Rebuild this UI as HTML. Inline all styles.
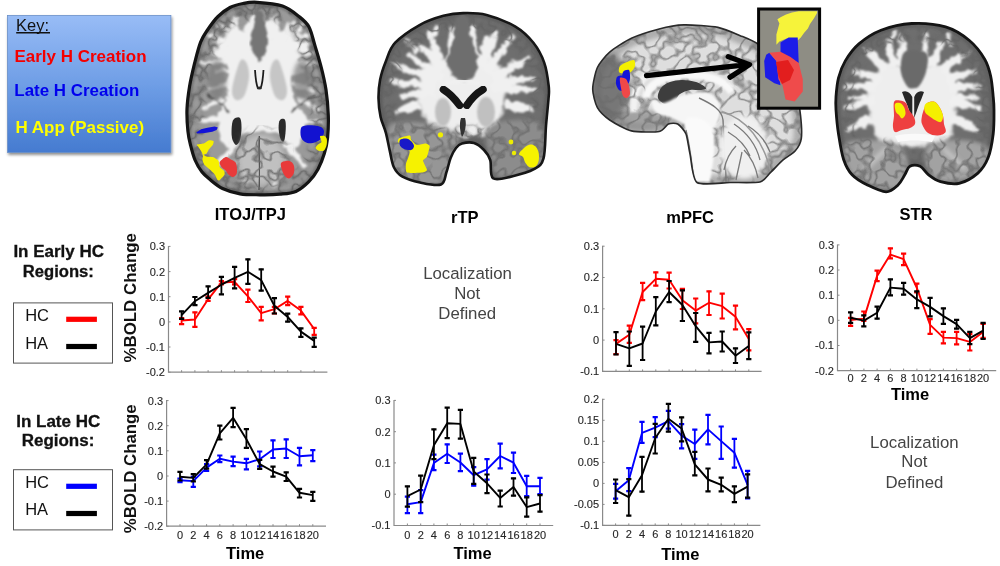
<!DOCTYPE html>
<html><head><meta charset="utf-8"><style>
html,body{margin:0;padding:0;background:#fff;}
body{width:1000px;height:566px;overflow:hidden;position:relative;font-family:"Liberation Sans", sans-serif;}
svg{position:absolute;left:0;top:0;will-change:transform;}
.tk{font-family:"Liberation Sans", sans-serif;font-size:11px;fill:#262626;stroke:#262626;stroke-width:0.12px;}
.tm{font-family:"Liberation Sans", sans-serif;font-size:16.5px;font-weight:bold;fill:#000;}
.tt{font-family:"Liberation Sans", sans-serif;font-size:16.5px;font-weight:bold;fill:#000;}
.rl{font-family:"Liberation Sans", sans-serif;font-size:16px;font-weight:bold;fill:#111;stroke:#111;stroke-width:0.3px;}
.lg{font-family:"Liberation Sans", sans-serif;font-size:16.5px;fill:#111;}
.nd{font-family:"Liberation Sans", sans-serif;font-size:16.8px;fill:#444;}
.k0{font-family:"Liberation Sans", sans-serif;font-size:16.5px;fill:#111;}
.k1{font-family:"Liberation Sans", sans-serif;font-size:16.5px;font-weight:bold;fill:#f40000;}
.k2{font-family:"Liberation Sans", sans-serif;font-size:16.5px;font-weight:bold;fill:#0000ee;}
.k3{font-family:"Liberation Sans", sans-serif;font-size:16.5px;font-weight:bold;fill:#ffff00;}
.yl{font-family:"Liberation Sans", sans-serif;font-size:17px;font-weight:bold;fill:#111;}
</style></head><body>
<svg width="1000" height="566" viewBox="0 0 1000 566">
<defs>
<linearGradient id="keyg" x1="0" y1="0" x2="0" y2="1">
<stop offset="0" stop-color="#98bcf6"/><stop offset="0.5" stop-color="#6f9ee6"/><stop offset="1" stop-color="#457bd0"/>
</linearGradient>
<filter id="sh" x="-10%" y="-10%" width="130%" height="130%"><feGaussianBlur in="SourceAlpha" stdDeviation="1.5"/><feOffset dx="1" dy="2"/><feComponentTransfer><feFuncA type="linear" slope="0.45"/></feComponentTransfer><feMerge><feMergeNode/><feMergeNode in="SourceGraphic"/></feMerge></filter>
</defs>
<!-- Key box -->
<rect x="7.5" y="15.5" width="163.4" height="137" fill="url(#keyg)" stroke="#6a8fc8" stroke-width="0.8" filter="url(#sh)"/>
<text x="16" y="30.8" class="k0" textLength="33" lengthAdjust="spacingAndGlyphs">Key:</text>
<path d="M16.2,32.7h33.8" stroke="#111" stroke-width="1.4"/>
<text x="14.5" y="61.9" class="k1" textLength="132" lengthAdjust="spacingAndGlyphs">Early H Creation</text>
<text x="14.3" y="95.8" class="k2" textLength="125" lengthAdjust="spacingAndGlyphs">Late H Creation</text>
<text x="15.5" y="132.8" class="k3" textLength="128.6" lengthAdjust="spacingAndGlyphs">H App (Passive)</text>
<defs><filter id="wob" x="-10%" y="-10%" width="120%" height="120%"><feTurbulence type="fractalNoise" baseFrequency="0.12" numOctaves="2" seed="3" result="n"/><feDisplacementMap in="SourceGraphic" in2="n" scale="7" xChannelSelector="R" yChannelSelector="G" result="d"/><feGaussianBlur in="d" stdDeviation="0.8"/></filter>
<filter id="sulc" x="0" y="0" width="100%" height="100%"><feTurbulence type="fractalNoise" baseFrequency="0.075" numOctaves="2" seed="11" result="n"/><feColorMatrix in="n" type="matrix" values="0 0 0 0 0.12  0 0 0 0 0.12  0 0 0 0 0.12  1 0 0 0 0" result="m"/><feComponentTransfer in="m"><feFuncA type="table" tableValues="0 0 0 0 0.2 1 0.2 0 0 0 0"/></feComponentTransfer><feGaussianBlur stdDeviation="0.4"/></filter>
<filter id="sulc2" x="0" y="0" width="100%" height="100%"><feTurbulence type="fractalNoise" baseFrequency="0.07" numOctaves="2" seed="5" result="n"/><feColorMatrix in="n" type="matrix" values="0 0 0 0 0.15  0 0 0 0 0.15  0 0 0 0 0.15  1 0 0 0 0" result="m"/><feComponentTransfer in="m"><feFuncA type="table" tableValues="0 0 0 0 0 1 0 0 0 0 0"/></feComponentTransfer><feGaussianBlur stdDeviation="0.35"/></filter>
<filter id="ctx" x="0" y="0" width="100%" height="100%"><feTurbulence type="fractalNoise" baseFrequency="0.11" numOctaves="2" seed="21" result="n"/><feColorMatrix in="n" type="matrix" values="2.6 0 0 0 -0.85  2.6 0 0 0 -0.85  2.6 0 0 0 -0.85  0 0 0 0 1" result="g"/><feGaussianBlur stdDeviation="0.5"/><feComposite in2="SourceGraphic" operator="in"/></filter>
<filter id="bl05" x="-20%" y="-20%" width="140%" height="140%"><feGaussianBlur stdDeviation="0.5"/></filter>
<filter id="bl1" x="-20%" y="-20%" width="140%" height="140%"><feGaussianBlur stdDeviation="1"/></filter>
<filter id="bl2" x="-20%" y="-20%" width="140%" height="140%"><feGaussianBlur stdDeviation="2"/></filter>
<filter id="bl3" x="-30%" y="-30%" width="160%" height="160%"><feGaussianBlur stdDeviation="3"/></filter></defs>
<clipPath id="cpax"><path d="M257.0,2.3C263.6,2.7 275.5,3.6 282.5,6.0C289.5,8.4 294.6,13.0 299.0,16.5C303.4,20.0 306.4,22.2 309.0,27.0C311.6,31.8 312.8,38.6 314.9,45.4C316.9,52.2 319.4,60.2 321.3,67.6C323.2,75.0 324.8,81.9 326.0,89.8C327.2,97.7 328.0,107.2 328.3,115.2C328.6,123.2 328.2,131.2 327.6,137.5C327.0,143.8 326.0,148.0 324.4,153.3C322.8,158.6 320.6,164.4 318.0,169.2C315.4,174.0 312.3,178.2 308.6,181.9C304.9,185.6 300.7,189.4 295.9,191.4C291.1,193.4 286.0,193.6 280.0,194.2C274.0,194.8 266.7,194.9 260.0,194.8C253.3,194.7 246.2,194.9 240.0,193.8C233.8,192.8 227.4,190.8 222.5,188.5C217.6,186.2 213.9,182.8 210.5,180.0C207.1,177.2 204.6,175.3 202.0,172.0C199.4,168.7 196.9,164.5 195.0,160.0C193.1,155.5 191.7,149.8 190.5,145.0C189.3,140.2 188.5,137.1 187.9,131.1C187.3,125.1 186.7,116.3 187.0,108.9C187.3,101.5 188.3,94.1 189.5,86.7C190.7,79.3 192.5,71.8 194.3,64.4C196.2,57.0 198.4,47.9 200.6,42.2C202.8,36.5 204.6,34.3 207.5,30.0C210.4,25.7 214.2,20.2 218.0,16.5C221.8,12.8 225.8,9.7 230.0,7.5C234.2,5.3 238.5,4.4 243.0,3.5C247.5,2.6 250.4,1.9 257.0,2.3Z"/></clipPath>
<path d="M257.0,2.3C263.6,2.7 275.5,3.6 282.5,6.0C289.5,8.4 294.6,13.0 299.0,16.5C303.4,20.0 306.4,22.2 309.0,27.0C311.6,31.8 312.8,38.6 314.9,45.4C316.9,52.2 319.4,60.2 321.3,67.6C323.2,75.0 324.8,81.9 326.0,89.8C327.2,97.7 328.0,107.2 328.3,115.2C328.6,123.2 328.2,131.2 327.6,137.5C327.0,143.8 326.0,148.0 324.4,153.3C322.8,158.6 320.6,164.4 318.0,169.2C315.4,174.0 312.3,178.2 308.6,181.9C304.9,185.6 300.7,189.4 295.9,191.4C291.1,193.4 286.0,193.6 280.0,194.2C274.0,194.8 266.7,194.9 260.0,194.8C253.3,194.7 246.2,194.9 240.0,193.8C233.8,192.8 227.4,190.8 222.5,188.5C217.6,186.2 213.9,182.8 210.5,180.0C207.1,177.2 204.6,175.3 202.0,172.0C199.4,168.7 196.9,164.5 195.0,160.0C193.1,155.5 191.7,149.8 190.5,145.0C189.3,140.2 188.5,137.1 187.9,131.1C187.3,125.1 186.7,116.3 187.0,108.9C187.3,101.5 188.3,94.1 189.5,86.7C190.7,79.3 192.5,71.8 194.3,64.4C196.2,57.0 198.4,47.9 200.6,42.2C202.8,36.5 204.6,34.3 207.5,30.0C210.4,25.7 214.2,20.2 218.0,16.5C221.8,12.8 225.8,9.7 230.0,7.5C234.2,5.3 238.5,4.4 243.0,3.5C247.5,2.6 250.4,1.9 257.0,2.3Z" fill="#9a9a9a"/>
<g clip-path="url(#cpax)">
<g filter="url(#wob)">
<path d="M225.6,31.8C227.1,29.1 232.6,18.5 234.5,17.7C236.4,16.9 238.8,24.1 240.0,26.0C241.2,27.9 242.2,32.3 243.3,31.8C244.4,31.3 246.8,24.1 248.0,22.0C249.2,19.9 251.0,15.9 252.1,15.9C253.2,15.9 255.1,20.1 256.0,22.0C256.9,23.9 257.9,30.0 259.2,30.0C260.5,30.0 264.1,23.6 266.0,22.0C267.9,20.4 271.7,17.2 273.3,17.7C274.9,18.2 277.1,24.1 278.0,26.0C278.9,27.9 279.3,31.8 280.4,31.8C281.5,31.8 284.6,27.2 286.0,26.0C287.4,24.8 289.9,22.7 291.0,23.0C292.1,23.3 293.1,26.8 294.0,28.0C294.9,29.2 297.0,30.2 298.1,31.8C299.2,33.4 301.1,38.1 302.0,40.0C302.9,41.9 303.7,44.4 305.1,45.9C306.5,47.4 312.1,50.0 312.2,51.2C312.3,52.4 307.9,53.8 306.0,55.0C304.1,56.2 298.9,58.6 298.1,60.1C297.3,61.6 299.1,64.5 300.0,66.0C300.9,67.5 305.5,69.9 305.0,71.0C304.5,72.1 297.9,73.1 296.0,74.0C294.1,74.9 291.2,74.5 291.0,78.0C290.8,81.5 293.3,95.7 294.5,100.0C295.7,104.3 298.5,107.6 300.0,110.0C301.5,112.4 305.3,115.3 306.0,118.0C306.7,120.7 305.8,126.8 305.0,130.0C304.2,133.2 301.7,139.3 300.0,142.0C298.3,144.7 294.0,149.5 292.0,150.0C290.0,150.5 286.3,147.9 285.0,146.0C283.7,144.1 282.9,137.9 282.0,136.0C281.1,134.1 279.6,132.4 278.0,132.0C276.4,131.6 272.5,133.1 270.0,133.0C267.5,132.9 261.9,131.0 259.0,131.0C256.1,131.0 250.5,132.3 248.0,133.0C245.5,133.7 241.5,134.3 240.0,136.0C238.5,137.7 238.3,144.1 237.0,146.0C235.7,147.9 232.0,150.5 230.0,150.0C228.0,149.5 223.5,144.9 222.0,142.0C220.5,139.1 219.4,132.0 219.0,128.0C218.6,124.0 218.1,115.7 219.0,112.0C219.9,108.3 224.5,104.3 225.6,100.0C226.7,95.7 226.8,83.7 227.5,79.6C228.2,75.5 231.2,71.3 231.0,69.0C230.8,66.7 227.1,63.4 225.7,62.0C224.3,60.6 222.0,59.2 220.3,58.3C218.6,57.4 214.2,56.2 213.0,55.0C211.8,53.8 210.8,50.6 211.5,49.5C212.2,48.4 216.8,47.5 218.0,47.0C219.2,46.5 219.6,47.1 220.3,45.9C221.0,44.7 222.3,39.9 223.0,38.0C223.7,36.1 224.1,34.5 225.6,31.8Z" fill="#f0f0f0"/>
<path d="M239.8,40.6L236.2,16.8M252.1,40.6L254.8,15.0M273.3,40.6L276.0,16.8M284.0,40.6L292.8,23.0M231.0,49.5L215.0,42.4M229.2,56.5L211.5,53.0M294.5,49.5L308.7,42.4M294.5,56.5L312.2,53.0M232.7,70.7L216.8,70.7M291.0,70.7L305.1,70.7M228.0,84.0L210.0,88.0M294.0,84.0L312.0,90.0M300.0,100.0L318.0,110.0M222.0,100.0L204.0,108.0M226.0,30.0L216.0,22.0M300.0,30.0L305.0,22.0M222.0,40.0L205.0,34.0M298.0,40.0L312.0,34.0M224.0,62.0L203.0,62.0M296.0,62.0L316.0,64.0M225.0,118.0L200.0,120.0M300.0,120.0L320.0,122.0M232.0,150.0L215.0,165.0M290.0,150.0L305.0,165.0M248.0,160.0L245.0,185.0M272.0,160.0L276.0,185.0" stroke="#f0f0f0" stroke-width="4.5" stroke-linecap="round" fill="none" filter="url(#bl05)"/>
<path d="M206,96 C214,99 222,104 230,112 M314,96 C306,99 298,104 290,112" stroke="#3a3a3a" stroke-width="1.8" fill="none" filter="url(#bl05)"/>
</g>
<mask id="mkax"><path d="M257.0,2.3C263.6,2.7 275.5,3.6 282.5,6.0C289.5,8.4 294.6,13.0 299.0,16.5C303.4,20.0 306.4,22.2 309.0,27.0C311.6,31.8 312.8,38.6 314.9,45.4C316.9,52.2 319.4,60.2 321.3,67.6C323.2,75.0 324.8,81.9 326.0,89.8C327.2,97.7 328.0,107.2 328.3,115.2C328.6,123.2 328.2,131.2 327.6,137.5C327.0,143.8 326.0,148.0 324.4,153.3C322.8,158.6 320.6,164.4 318.0,169.2C315.4,174.0 312.3,178.2 308.6,181.9C304.9,185.6 300.7,189.4 295.9,191.4C291.1,193.4 286.0,193.6 280.0,194.2C274.0,194.8 266.7,194.9 260.0,194.8C253.3,194.7 246.2,194.9 240.0,193.8C233.8,192.8 227.4,190.8 222.5,188.5C217.6,186.2 213.9,182.8 210.5,180.0C207.1,177.2 204.6,175.3 202.0,172.0C199.4,168.7 196.9,164.5 195.0,160.0C193.1,155.5 191.7,149.8 190.5,145.0C189.3,140.2 188.5,137.1 187.9,131.1C187.3,125.1 186.7,116.3 187.0,108.9C187.3,101.5 188.3,94.1 189.5,86.7C190.7,79.3 192.5,71.8 194.3,64.4C196.2,57.0 198.4,47.9 200.6,42.2C202.8,36.5 204.6,34.3 207.5,30.0C210.4,25.7 214.2,20.2 218.0,16.5C221.8,12.8 225.8,9.7 230.0,7.5C234.2,5.3 238.5,4.4 243.0,3.5C247.5,2.6 250.4,1.9 257.0,2.3Z" fill="none" stroke="#fff" stroke-width="34" filter="url(#bl2)"/></mask>
<rect x="185" y="0" width="146" height="198" fill="#000" filter="url(#sulc)" mask="url(#mkax)" opacity="0.8"/>
<path d="M257.0,2.3C263.6,2.7 275.5,3.6 282.5,6.0C289.5,8.4 294.6,13.0 299.0,16.5C303.4,20.0 306.4,22.2 309.0,27.0C311.6,31.8 312.8,38.6 314.9,45.4C316.9,52.2 319.4,60.2 321.3,67.6C323.2,75.0 324.8,81.9 326.0,89.8C327.2,97.7 328.0,107.2 328.3,115.2C328.6,123.2 328.2,131.2 327.6,137.5C327.0,143.8 326.0,148.0 324.4,153.3C322.8,158.6 320.6,164.4 318.0,169.2C315.4,174.0 312.3,178.2 308.6,181.9C304.9,185.6 300.7,189.4 295.9,191.4C291.1,193.4 286.0,193.6 280.0,194.2C274.0,194.8 266.7,194.9 260.0,194.8C253.3,194.7 246.2,194.9 240.0,193.8C233.8,192.8 227.4,190.8 222.5,188.5C217.6,186.2 213.9,182.8 210.5,180.0C207.1,177.2 204.6,175.3 202.0,172.0C199.4,168.7 196.9,164.5 195.0,160.0C193.1,155.5 191.7,149.8 190.5,145.0C189.3,140.2 188.5,137.1 187.9,131.1C187.3,125.1 186.7,116.3 187.0,108.9C187.3,101.5 188.3,94.1 189.5,86.7C190.7,79.3 192.5,71.8 194.3,64.4C196.2,57.0 198.4,47.9 200.6,42.2C202.8,36.5 204.6,34.3 207.5,30.0C210.4,25.7 214.2,20.2 218.0,16.5C221.8,12.8 225.8,9.7 230.0,7.5C234.2,5.3 238.5,4.4 243.0,3.5C247.5,2.6 250.4,1.9 257.0,2.3Z" fill="none" stroke="#5a5a5a" stroke-width="7" opacity="0.55" filter="url(#bl1)"/>
<path d="M256.5,12.0C257.6,10.7 260.2,10.3 261.5,12.0C262.8,13.7 263.1,18.7 264.0,22.0C264.9,25.3 266.3,28.7 267.0,32.0C267.7,35.3 268.2,39.0 268.0,42.0C267.8,45.0 267.0,47.0 266.0,50.0C265.0,53.0 263.1,57.8 262.0,60.0C260.9,62.2 260.3,63.3 259.5,63.0C258.7,62.7 258.1,60.2 257.0,58.0C255.9,55.8 254.0,52.7 253.0,50.0C252.0,47.3 251.0,45.3 251.0,42.0C251.0,38.7 252.3,33.7 253.0,30.0C253.7,26.3 254.4,23.0 255.0,20.0C255.6,17.0 255.4,13.3 256.5,12.0Z" fill="#747474" filter="url(#wob)"/>
<path d="M259.5,5 L259.5,60" stroke="#3a3a3a" stroke-width="1.6" filter="url(#bl05)"/>
<path d="M241.0,60.0C243.0,58.0 245.7,61.0 247.0,64.0C248.3,67.0 249.5,72.7 249.0,78.0C248.5,83.3 246.2,92.3 244.0,96.0C241.8,99.7 238.0,100.7 236.0,100.0C234.0,99.3 232.2,96.0 232.0,92.0C231.8,88.0 233.5,81.3 235.0,76.0C236.5,70.7 239.0,62.0 241.0,60.0Z" fill="#c6c6c6" filter="url(#bl1)"/>
<path d="M278.0,60.0C276.0,58.0 273.3,61.0 272.0,64.0C270.7,67.0 269.5,72.7 270.0,78.0C270.5,83.3 272.8,92.3 275.0,96.0C277.2,99.7 281.0,100.7 283.0,100.0C285.0,99.3 286.8,96.0 287.0,92.0C287.2,88.0 285.5,81.3 284.0,76.0C282.5,70.7 280.0,62.0 278.0,60.0Z" fill="#c6c6c6" filter="url(#bl1)"/>
<ellipse cx="217" cy="80" rx="9" ry="20" fill="#7a7a7a" opacity="0.7" filter="url(#bl2)"/>
<ellipse cx="302" cy="80" rx="9" ry="20" fill="#7a7a7a" opacity="0.7" filter="url(#bl2)"/>
<path d="M255,70 C255.5,78 256,84 258,88.5 M263.5,70 C263,78 262.5,84 260.5,88.5" stroke="#1e1e1e" stroke-width="1.8" fill="none" filter="url(#bl05)"/>
<ellipse cx="259.3" cy="88" rx="2.5" ry="1.6" fill="#2a2a2a"/>
<path d="M234.0,119.0C235.4,117.7 238.8,116.5 240.0,118.0C241.2,119.5 241.5,124.3 241.5,128.0C241.5,131.7 240.9,137.2 240.0,140.0C239.1,142.8 237.3,145.3 236.0,145.0C234.7,144.7 232.7,141.2 232.0,138.0C231.3,134.8 231.5,129.2 231.8,126.0C232.1,122.8 232.6,120.3 234.0,119.0Z" fill="#2a2a2a" filter="url(#bl05)"/>
<path d="M280.0,120.0C281.1,118.7 284.1,118.3 285.0,120.0C285.9,121.7 285.9,126.5 285.7,130.0C285.5,133.5 284.9,139.5 284.0,141.0C283.1,142.5 281.4,141.2 280.5,139.0C279.6,136.8 278.7,131.2 278.6,128.0C278.5,124.8 278.9,121.3 280.0,120.0Z" fill="#2a2a2a" filter="url(#bl05)"/>
<ellipse cx="261" cy="160" rx="24" ry="26" fill="#c0c0c0" filter="url(#bl3)"/>
<path d="M259.5,136 C258,150 261,165 259,190" stroke="#555" stroke-width="1.6" fill="none" filter="url(#bl05)"/>
<mask id="mkoc"><ellipse cx="261" cy="160" rx="30" ry="32" fill="#fff" filter="url(#bl3)"/></mask>
<rect x="228" y="125" width="66" height="70" fill="#000" filter="url(#sulc2)" mask="url(#mkoc)" opacity="0.85"/>
</g>
<path d="M257.0,2.3C263.6,2.7 275.5,3.6 282.5,6.0C289.5,8.4 294.6,13.0 299.0,16.5C303.4,20.0 306.4,22.2 309.0,27.0C311.6,31.8 312.8,38.6 314.9,45.4C316.9,52.2 319.4,60.2 321.3,67.6C323.2,75.0 324.8,81.9 326.0,89.8C327.2,97.7 328.0,107.2 328.3,115.2C328.6,123.2 328.2,131.2 327.6,137.5C327.0,143.8 326.0,148.0 324.4,153.3C322.8,158.6 320.6,164.4 318.0,169.2C315.4,174.0 312.3,178.2 308.6,181.9C304.9,185.6 300.7,189.4 295.9,191.4C291.1,193.4 286.0,193.6 280.0,194.2C274.0,194.8 266.7,194.9 260.0,194.8C253.3,194.7 246.2,194.9 240.0,193.8C233.8,192.8 227.4,190.8 222.5,188.5C217.6,186.2 213.9,182.8 210.5,180.0C207.1,177.2 204.6,175.3 202.0,172.0C199.4,168.7 196.9,164.5 195.0,160.0C193.1,155.5 191.7,149.8 190.5,145.0C189.3,140.2 188.5,137.1 187.9,131.1C187.3,125.1 186.7,116.3 187.0,108.9C187.3,101.5 188.3,94.1 189.5,86.7C190.7,79.3 192.5,71.8 194.3,64.4C196.2,57.0 198.4,47.9 200.6,42.2C202.8,36.5 204.6,34.3 207.5,30.0C210.4,25.7 214.2,20.2 218.0,16.5C221.8,12.8 225.8,9.7 230.0,7.5C234.2,5.3 238.5,4.4 243.0,3.5C247.5,2.6 250.4,1.9 257.0,2.3Z" fill="none" stroke="#141414" stroke-width="3.2"/>
<path d="M196.2,132.4 L201.1,129.3 L207.3,127.7 L214.7,126.4 L217.8,127.4 L216.6,129.9 L212.3,131.8 L204.8,133 L197.4,133.4Z" fill="#1212d8"/>
<path d="M196.8,144.7C197.3,144.3 202.4,143.9 203.6,143.5C204.8,143.1 207.6,140.7 208.6,140.4C209.6,140.2 213.1,140.6 213.5,141.0C213.9,141.4 213.4,143.8 212.9,144.7C212.4,145.6 209.2,148.8 208.6,149.7C208.0,150.6 207.2,152.9 206.7,153.4C206.2,153.9 203.7,154.3 203.6,154.6C203.5,154.9 205.2,156.2 206.1,156.5C207.0,156.8 211.7,156.7 212.9,157.1C214.1,157.5 217.8,159.8 218.5,160.8C219.2,161.8 219.1,166.0 219.7,167.0C220.2,168.0 223.5,170.0 224.0,170.7C224.5,171.4 224.8,173.7 224.6,174.4C224.3,175.1 222.1,177.5 221.5,178.1C220.9,178.7 219.5,180.5 219.1,180.6C218.7,180.7 217.6,180.0 217.2,179.4C216.8,178.8 215.4,175.4 214.7,174.4C214.0,173.4 210.9,170.5 209.8,169.5C208.8,168.5 204.9,165.5 204.2,164.5C203.5,163.5 202.5,160.5 202.4,159.6C202.3,158.7 203.1,156.6 203.0,155.9C202.9,155.2 202.2,153.1 201.8,152.2C201.4,151.3 199.2,147.9 198.7,147.2C198.2,146.4 196.3,145.1 196.8,144.7Z" fill="#f6f000"/>
<path d="M219.7,162.1C220.3,160.8 224.4,157.4 225.9,157.1C227.4,156.8 229.5,158.9 230.8,159.6C232.1,160.3 235.0,161.4 235.8,162.7C236.6,164.0 236.9,167.9 237.0,169.5C237.1,171.1 237.0,173.4 236.4,174.4C235.8,175.4 233.8,176.9 232.7,176.9C231.6,176.9 229.3,175.2 228.4,174.4C227.5,173.6 226.8,171.7 225.9,170.7C225.0,169.7 222.3,168.1 221.5,167.0C220.7,165.9 219.1,163.4 219.7,162.1Z" fill="#e83a3a"/>
<path d="M301.0,128.0C301.8,126.1 303.8,126.0 306.0,125.6C308.2,125.2 311.5,125.3 314.0,125.5C316.5,125.7 319.3,126.1 321.0,127.0C322.7,127.9 323.8,129.3 324.0,131.0C324.2,132.7 323.5,135.3 322.5,137.0C321.5,138.7 319.9,139.9 318.0,141.0C316.1,142.1 313.2,143.1 311.0,143.3C308.8,143.5 306.7,143.1 305.0,142.0C303.3,140.9 301.7,139.3 301.0,137.0C300.3,134.7 300.2,129.9 301.0,128.0Z" fill="#1212d0"/>
<path d="M320.0,136.5C320.4,135.7 323.6,135.7 324.5,136.0C325.4,136.3 326.5,137.8 326.8,139.0C327.1,140.2 327.0,143.5 326.6,145.0C326.2,146.5 325.1,149.7 324.0,150.5C322.9,151.3 319.6,151.0 318.5,150.7C317.4,150.4 315.6,148.8 315.5,148.0C315.4,147.2 317.2,145.3 318.0,144.5C318.8,143.7 321.2,143.1 321.5,142.0C321.8,140.9 319.6,137.3 320.0,136.5Z" fill="#f4f000"/>
<path d="M281.0,163.0C281.7,161.5 284.2,161.1 286.0,160.9C287.8,160.7 290.1,161.0 291.5,162.0C292.9,163.0 293.9,165.0 294.2,167.0C294.5,169.0 294.4,172.1 293.5,174.0C292.6,175.9 290.4,178.2 289.0,178.5C287.6,178.8 286.2,177.4 285.0,176.0C283.8,174.6 282.7,172.2 282.0,170.0C281.3,167.8 280.3,164.5 281.0,163.0Z" fill="#e83a3a"/>
<clipPath id="cpco"><path d="M463.2,13.1C470.4,12.9 477.9,12.7 486.6,14.9C495.3,17.1 507.6,22.0 515.4,26.6C523.2,31.2 528.6,36.8 533.4,42.8C538.2,48.8 541.7,55.4 544.2,62.6C546.8,69.8 548.0,79.9 548.7,86.0C549.4,92.1 549.0,92.3 548.5,99.0C548.0,105.7 546.8,116.1 546.0,126.0C545.2,135.9 545.5,151.2 543.5,158.4C541.5,165.6 539.3,166.2 534.0,169.2C528.7,172.2 518.6,174.9 511.8,176.4C505.0,177.9 496.6,180.9 493.0,178.2C489.4,175.5 491.7,164.7 490.2,160.0C488.7,155.3 486.7,152.8 484.0,150.0C481.3,147.2 477.7,144.1 474.0,143.0C470.3,141.9 465.0,142.7 462.0,143.5C459.0,144.3 457.9,145.6 456.0,148.0C454.1,150.4 452.2,154.0 450.6,158.0C449.0,162.0 448.1,167.6 446.5,172.0C444.9,176.4 445.4,182.7 441.0,184.5C436.6,186.3 426.5,183.9 420.0,182.6C413.5,181.2 406.4,178.9 402.0,176.4C397.6,173.9 395.9,171.5 393.9,167.3C391.9,163.1 391.2,157.2 389.9,151.4C388.6,145.7 387.4,138.6 385.9,132.8C384.3,127.1 381.8,122.6 380.6,116.9C379.4,111.2 378.6,104.6 378.5,98.4C378.4,92.2 378.9,86.0 380.1,79.8C381.3,73.6 383.4,67.4 385.9,61.2C388.4,55.0 389.5,48.8 395.2,42.7C400.9,36.6 412.0,29.3 420.0,24.8C428.0,20.3 436.2,17.8 443.4,15.8C450.6,13.9 456.0,13.2 463.2,13.1Z"/></clipPath>
<path d="M463.2,13.1C470.4,12.9 477.9,12.7 486.6,14.9C495.3,17.1 507.6,22.0 515.4,26.6C523.2,31.2 528.6,36.8 533.4,42.8C538.2,48.8 541.7,55.4 544.2,62.6C546.8,69.8 548.0,79.9 548.7,86.0C549.4,92.1 549.0,92.3 548.5,99.0C548.0,105.7 546.8,116.1 546.0,126.0C545.2,135.9 545.5,151.2 543.5,158.4C541.5,165.6 539.3,166.2 534.0,169.2C528.7,172.2 518.6,174.9 511.8,176.4C505.0,177.9 496.6,180.9 493.0,178.2C489.4,175.5 491.7,164.7 490.2,160.0C488.7,155.3 486.7,152.8 484.0,150.0C481.3,147.2 477.7,144.1 474.0,143.0C470.3,141.9 465.0,142.7 462.0,143.5C459.0,144.3 457.9,145.6 456.0,148.0C454.1,150.4 452.2,154.0 450.6,158.0C449.0,162.0 448.1,167.6 446.5,172.0C444.9,176.4 445.4,182.7 441.0,184.5C436.6,186.3 426.5,183.9 420.0,182.6C413.5,181.2 406.4,178.9 402.0,176.4C397.6,173.9 395.9,171.5 393.9,167.3C391.9,163.1 391.2,157.2 389.9,151.4C388.6,145.7 387.4,138.6 385.9,132.8C384.3,127.1 381.8,122.6 380.6,116.9C379.4,111.2 378.6,104.6 378.5,98.4C378.4,92.2 378.9,86.0 380.1,79.8C381.3,73.6 383.4,67.4 385.9,61.2C388.4,55.0 389.5,48.8 395.2,42.7C400.9,36.6 412.0,29.3 420.0,24.8C428.0,20.3 436.2,17.8 443.4,15.8C450.6,13.9 456.0,13.2 463.2,13.1Z" fill="#6e6e6e"/>
<g clip-path="url(#cpco)">
<g filter="url(#wob)">
<path d="M430.0,62.0C434.5,58.7 441.5,58.3 447.0,60.0C452.5,61.7 457.7,72.0 463.0,72.0C468.3,72.0 473.5,61.7 479.0,60.0C484.5,58.3 491.5,58.7 496.0,62.0C500.5,65.3 504.8,72.8 506.0,80.0C507.2,87.2 504.5,97.5 503.0,105.0C501.5,112.5 500.8,119.8 497.0,125.0C493.2,130.2 485.7,133.8 480.0,136.0C474.3,138.2 468.7,138.0 463.0,138.0C457.3,138.0 451.5,138.0 446.0,136.0C440.5,134.0 434.3,131.2 430.0,126.0C425.7,120.8 421.7,112.7 420.0,105.0C418.3,97.3 418.3,87.2 420.0,80.0C421.7,72.8 425.5,65.3 430.0,62.0Z" fill="#eeeeee" filter="url(#bl1)"/>
<path d="M446.5,73.9L410.6,52.9A2.5,2.5 0 0 0 407.8,57.1L440.3,82.9ZM447.4,65.7L421.8,42.5A2.5,2.5 0 0 0 418.2,45.9L439.4,73.1ZM457.9,63.7L453.1,27.9A2.5,2.5 0 0 0 448.1,28.1L446.9,64.3ZM439.4,73.1L399.1,65.2A2.5,2.5 0 0 0 397.7,70.0L436.6,83.7ZM434.9,80.1L393.2,79.5A2.5,2.5 0 0 0 392.8,84.5L433.9,91.1ZM433.5,85.6L401.6,93.9A2.5,2.5 0 0 0 402.4,98.9L435.3,96.4ZM481.3,63.5L474.7,27.8A2.5,2.5 0 0 0 469.7,28.2L470.3,64.5ZM486.6,68.6L489.1,37.4A2.5,2.5 0 0 0 484.1,36.6L475.8,66.6ZM491.2,76.1L506.7,47.4A2.5,2.5 0 0 0 502.5,44.6L482.0,69.9ZM494.5,83.3L525.5,64.4A2.5,2.5 0 0 0 523.3,60.0L489.5,73.5ZM492.5,87.5L533.6,80.9A2.5,2.5 0 0 0 533.2,75.9L491.5,76.5ZM491.8,92.9L533.3,91.7A2.5,2.5 0 0 0 533.5,86.7L492.2,81.9ZM445.1,58.0L432.3,33.1A2.5,2.5 0 0 0 427.7,34.9L434.9,62.0ZM491.2,61.7L497.4,32.8A2.5,2.5 0 0 0 492.6,31.2L480.8,58.3ZM418.3,98.8L395.2,109.6A2.5,2.5 0 0 0 396.8,114.4L421.7,109.2ZM503.8,109.4L531.5,112.4A2.5,2.5 0 0 0 532.5,107.6L506.2,98.6Z" fill="#f0f0f0"/>
<path d="M420.0,49.8L406.2,38.7A1.8,1.8 0 0 0 403.8,41.3L416.0,54.2ZM432.6,41.5L439.5,26.9A1.8,1.8 0 0 0 436.5,25.1L427.4,38.5ZM413.3,69.3L392.8,60.4A1.8,1.8 0 0 0 391.2,63.6L410.7,74.7ZM502.3,54.0L515.3,37.2A1.8,1.8 0 0 0 512.7,34.8L497.7,50.0ZM509.0,68.8L530.6,59.6A1.8,1.8 0 0 0 529.4,56.4L507.0,63.2ZM472.7,38.7L463.6,23.2A1.8,1.8 0 0 0 460.4,24.8L467.3,41.3Z" fill="#f0f0f0"/>
</g>
<path d="M463.2,13.1C470.4,12.9 477.9,12.7 486.6,14.9C495.3,17.1 507.6,22.0 515.4,26.6C523.2,31.2 528.6,36.8 533.4,42.8C538.2,48.8 541.7,55.4 544.2,62.6C546.8,69.8 548.0,79.9 548.7,86.0C549.4,92.1 549.0,92.3 548.5,99.0C548.0,105.7 546.8,116.1 546.0,126.0C545.2,135.9 545.5,151.2 543.5,158.4C541.5,165.6 539.3,166.2 534.0,169.2C528.7,172.2 518.6,174.9 511.8,176.4C505.0,177.9 496.6,180.9 493.0,178.2C489.4,175.5 491.7,164.7 490.2,160.0C488.7,155.3 486.7,152.8 484.0,150.0C481.3,147.2 477.7,144.1 474.0,143.0C470.3,141.9 465.0,142.7 462.0,143.5C459.0,144.3 457.9,145.6 456.0,148.0C454.1,150.4 452.2,154.0 450.6,158.0C449.0,162.0 448.1,167.6 446.5,172.0C444.9,176.4 445.4,182.7 441.0,184.5C436.6,186.3 426.5,183.9 420.0,182.6C413.5,181.2 406.4,178.9 402.0,176.4C397.6,173.9 395.9,171.5 393.9,167.3C391.9,163.1 391.2,157.2 389.9,151.4C388.6,145.7 387.4,138.6 385.9,132.8C384.3,127.1 381.8,122.6 380.6,116.9C379.4,111.2 378.6,104.6 378.5,98.4C378.4,92.2 378.9,86.0 380.1,79.8C381.3,73.6 383.4,67.4 385.9,61.2C388.4,55.0 389.5,48.8 395.2,42.7C400.9,36.6 412.0,29.3 420.0,24.8C428.0,20.3 436.2,17.8 443.4,15.8C450.6,13.9 456.0,13.2 463.2,13.1Z" fill="none" stroke="#555" stroke-width="8" opacity="0.6" filter="url(#bl1)"/>
<mask id="mkco"><path d="M463.2,13.1C470.4,12.9 477.9,12.7 486.6,14.9C495.3,17.1 507.6,22.0 515.4,26.6C523.2,31.2 528.6,36.8 533.4,42.8C538.2,48.8 541.7,55.4 544.2,62.6C546.8,69.8 548.0,79.9 548.7,86.0C549.4,92.1 549.0,92.3 548.5,99.0C548.0,105.7 546.8,116.1 546.0,126.0C545.2,135.9 545.5,151.2 543.5,158.4C541.5,165.6 539.3,166.2 534.0,169.2C528.7,172.2 518.6,174.9 511.8,176.4C505.0,177.9 496.6,180.9 493.0,178.2C489.4,175.5 491.7,164.7 490.2,160.0C488.7,155.3 486.7,152.8 484.0,150.0C481.3,147.2 477.7,144.1 474.0,143.0C470.3,141.9 465.0,142.7 462.0,143.5C459.0,144.3 457.9,145.6 456.0,148.0C454.1,150.4 452.2,154.0 450.6,158.0C449.0,162.0 448.1,167.6 446.5,172.0C444.9,176.4 445.4,182.7 441.0,184.5C436.6,186.3 426.5,183.9 420.0,182.6C413.5,181.2 406.4,178.9 402.0,176.4C397.6,173.9 395.9,171.5 393.9,167.3C391.9,163.1 391.2,157.2 389.9,151.4C388.6,145.7 387.4,138.6 385.9,132.8C384.3,127.1 381.8,122.6 380.6,116.9C379.4,111.2 378.6,104.6 378.5,98.4C378.4,92.2 378.9,86.0 380.1,79.8C381.3,73.6 383.4,67.4 385.9,61.2C388.4,55.0 389.5,48.8 395.2,42.7C400.9,36.6 412.0,29.3 420.0,24.8C428.0,20.3 436.2,17.8 443.4,15.8C450.6,13.9 456.0,13.2 463.2,13.1Z" fill="none" stroke="#fff" stroke-width="34" filter="url(#bl2)"/></mask>
<rect x="376" y="10" width="175" height="178" fill="#000" filter="url(#sulc)" mask="url(#mkco)" opacity="0.8"/>
<path d="M458.0,18.0C460.3,14.3 465.7,14.3 468.0,18.0C470.3,21.7 470.3,33.7 472.0,40.0C473.7,46.3 477.3,50.7 478.0,56.0C478.7,61.3 477.7,68.0 476.0,72.0C474.3,76.0 471.0,78.7 468.0,80.0C465.0,81.3 461.0,81.3 458.0,80.0C455.0,78.7 451.7,76.0 450.0,72.0C448.3,68.0 447.3,61.3 448.0,56.0C448.7,50.7 452.3,46.3 454.0,40.0C455.7,33.7 455.7,21.7 458.0,18.0Z" fill="#6e6e6e" filter="url(#wob)"/>
<path d="M446,84 C455,80 471,80 480,84" stroke="#f0f0f0" stroke-width="5" fill="none" filter="url(#bl1)"/>
<path d="M463,14 L463,80" stroke="#3a3a3a" stroke-width="2" filter="url(#bl05)"/>
<path d="M388.0,128.0C391.0,120.0 401.3,122.3 410.0,122.0C418.7,121.7 432.0,123.3 440.0,126.0C448.0,128.7 456.0,132.3 458.0,138.0C460.0,143.7 455.0,152.3 452.0,160.0C449.0,167.7 447.0,180.3 440.0,184.0C433.0,187.7 418.0,184.3 410.0,182.0C402.0,179.7 395.7,179.0 392.0,170.0C388.3,161.0 385.0,136.0 388.0,128.0Z" fill="#969696" filter="url(#bl2)"/>
<path d="M488.0,128.0C492.2,121.3 506.0,120.3 515.0,120.0C524.0,119.7 537.0,119.3 542.0,126.0C547.0,132.7 547.0,152.3 545.0,160.0C543.0,167.7 537.5,169.0 530.0,172.0C522.5,175.0 506.7,180.0 500.0,178.0C493.3,176.0 492.0,168.3 490.0,160.0C488.0,151.7 483.8,134.7 488.0,128.0Z" fill="#8c8c8c" filter="url(#bl2)"/>
<mask id="mkcol"><path d="M388.0,128.0C391.0,120.0 401.3,122.3 410.0,122.0C418.7,121.7 432.0,123.3 440.0,126.0C448.0,128.7 456.0,132.3 458.0,138.0C460.0,143.7 455.0,152.0 452.0,160.0C449.0,168.0 447.0,182.0 440.0,186.0C433.0,190.0 418.0,186.7 410.0,184.0C402.0,181.3 395.7,179.3 392.0,170.0C388.3,160.7 385.0,136.0 388.0,128.0Z" fill="#fff" filter="url(#bl2)"/><path d="M488.0,128.0C492.2,121.3 505.5,120.3 515.0,120.0C524.5,119.7 539.7,119.3 545.0,126.0C550.3,132.7 549.5,152.0 547.0,160.0C544.5,168.0 537.8,170.7 530.0,174.0C522.2,177.3 506.7,182.3 500.0,180.0C493.3,177.7 492.0,168.7 490.0,160.0C488.0,151.3 483.8,134.7 488.0,128.0Z" fill="#fff" filter="url(#bl2)"/></mask>
<rect x="380" y="118" width="170" height="70" fill="#000" filter="url(#sulc2)" mask="url(#mkcol)" opacity="0.8"/>
<ellipse cx="443" cy="112" rx="8" ry="14" fill="#c0c0c0" filter="url(#bl1)"/>
<ellipse cx="486" cy="112" rx="9" ry="15" fill="#c0c0c0" filter="url(#bl1)"/>
<path d="M443.4,89.5 C449,93 455,99 459.6,105.4 M483,89.5 C477,93 471,99 466.8,105.4" stroke="#161616" stroke-width="7.5" stroke-linecap="round" fill="none" filter="url(#bl05)"/>
<path d="M461,118 C459,124 460,132 462,137 C465,133 467,124 465,118Z" fill="#333" filter="url(#bl05)"/>
</g>
<path d="M463.2,13.1C470.4,12.9 477.9,12.7 486.6,14.9C495.3,17.1 507.6,22.0 515.4,26.6C523.2,31.2 528.6,36.8 533.4,42.8C538.2,48.8 541.7,55.4 544.2,62.6C546.8,69.8 548.0,79.9 548.7,86.0C549.4,92.1 549.0,92.3 548.5,99.0C548.0,105.7 546.8,116.1 546.0,126.0C545.2,135.9 545.5,151.2 543.5,158.4C541.5,165.6 539.3,166.2 534.0,169.2C528.7,172.2 518.6,174.9 511.8,176.4C505.0,177.9 496.6,180.9 493.0,178.2C489.4,175.5 491.7,164.7 490.2,160.0C488.7,155.3 486.7,152.8 484.0,150.0C481.3,147.2 477.7,144.1 474.0,143.0C470.3,141.9 465.0,142.7 462.0,143.5C459.0,144.3 457.9,145.6 456.0,148.0C454.1,150.4 452.2,154.0 450.6,158.0C449.0,162.0 448.1,167.6 446.5,172.0C444.9,176.4 445.4,182.7 441.0,184.5C436.6,186.3 426.5,183.9 420.0,182.6C413.5,181.2 406.4,178.9 402.0,176.4C397.6,173.9 395.9,171.5 393.9,167.3C391.9,163.1 391.2,157.2 389.9,151.4C388.6,145.7 387.4,138.6 385.9,132.8C384.3,127.1 381.8,122.6 380.6,116.9C379.4,111.2 378.6,104.6 378.5,98.4C378.4,92.2 378.9,86.0 380.1,79.8C381.3,73.6 383.4,67.4 385.9,61.2C388.4,55.0 389.5,48.8 395.2,42.7C400.9,36.6 412.0,29.3 420.0,24.8C428.0,20.3 436.2,17.8 443.4,15.8C450.6,13.9 456.0,13.2 463.2,13.1Z" fill="none" stroke="#161616" stroke-width="2.6"/>
<path d="M399.2,138.2C400.4,137.5 408.6,135.4 409.8,135.5C411.0,135.6 410.4,138.6 411.1,139.5C411.8,140.4 414.9,144.4 416.4,144.8C417.9,145.2 424.4,143.3 425.7,143.4C427.0,143.5 429.6,144.8 429.7,146.1C429.8,147.4 427.7,155.2 427.0,156.7C426.3,158.2 423.1,159.4 423.1,160.7C423.1,162.0 427.1,168.8 427.0,170.0C426.9,171.2 423.7,172.3 421.7,172.6C419.7,172.9 408.7,173.4 407.1,172.6C405.5,171.8 405.7,166.3 405.8,164.7C405.9,163.1 408.1,158.0 408.5,156.7C408.9,155.4 409.9,152.2 409.8,151.4C409.7,150.6 407.9,149.5 407.1,148.8C406.3,148.1 402.7,145.5 401.8,144.8C400.9,144.1 398.2,142.8 397.9,142.1C397.6,141.4 398.0,138.9 399.2,138.2Z" fill="#f6f200"/>
<path d="M400.0,140.0C401.0,138.8 404.2,138.3 406.0,138.5C407.8,138.7 409.7,139.8 411.0,141.0C412.3,142.2 414.0,144.5 414.0,146.0C414.0,147.5 412.7,149.5 411.0,150.0C409.3,150.5 405.8,149.8 404.0,149.0C402.2,148.2 400.7,147.0 400.0,145.5C399.3,144.0 399.0,141.2 400.0,140.0Z" fill="#1818c8"/>
<circle cx="440.5" cy="134.8" r="2.6" fill="#f0ee00"/>
<path d="M524.0,148.0C525.8,146.4 528.2,144.8 530.0,144.5C531.8,144.2 533.6,144.8 535.0,146.0C536.4,147.2 537.9,149.7 538.5,152.0C539.1,154.3 539.2,157.7 538.8,160.0C538.4,162.3 537.5,164.8 536.0,166.0C534.5,167.2 531.8,167.9 530.0,167.4C528.2,166.9 526.7,164.7 525.5,163.0C524.3,161.3 524.1,158.5 523.0,157.0C521.9,155.5 518.8,155.5 519.0,154.0C519.2,152.5 522.2,149.6 524.0,148.0Z" fill="#f6f200"/>
<circle cx="511" cy="142" r="2.4" fill="#eeee00"/><circle cx="514" cy="153" r="2.2" fill="#eeee00"/>
<clipPath id="cpsg"><path d="M592.7,89.2C592.7,84.5 595.4,71.8 597.4,67.5C599.4,63.2 605.7,55.5 609.7,52.1C613.7,48.7 625.6,40.9 631.4,38.2C637.2,35.5 653.1,30.5 659.2,28.9C665.3,27.3 677.1,25.1 683.9,24.9C690.7,24.7 711.1,26.0 717.9,27.4C724.7,28.8 737.9,34.7 742.6,36.6C747.3,38.5 754.6,41.7 758.0,44.0C761.4,46.3 768.7,52.7 772.0,56.0C775.3,59.3 783.2,67.8 786.0,72.0C788.8,76.2 794.3,87.0 796.0,92.0C797.7,97.0 799.9,109.6 800.5,115.0C801.1,120.4 801.9,134.4 801.3,138.6C800.7,142.8 797.3,148.5 795.1,151.0C792.9,153.5 785.7,157.7 782.8,160.2C779.9,162.7 773.1,170.1 770.4,172.6C767.7,175.1 764.7,180.8 760.0,182.0C755.3,183.2 737.4,182.4 730.0,182.5C722.6,182.6 701.7,185.8 697.0,182.5C692.3,179.2 691.3,159.7 690.0,154.0C688.7,148.3 687.4,137.5 686.0,134.0C684.6,130.5 679.8,125.2 677.7,124.0C675.6,122.8 670.6,123.1 668.4,124.0C666.2,124.9 663.5,130.7 659.2,131.5C654.9,132.3 637.2,132.2 631.4,130.9C625.6,129.6 613.7,122.7 609.7,120.0C605.7,117.3 599.4,111.3 597.4,107.7C595.4,104.1 592.7,93.9 592.7,89.2Z"/></clipPath>
<path d="M592.7,89.2C592.7,84.5 595.4,71.8 597.4,67.5C599.4,63.2 605.7,55.5 609.7,52.1C613.7,48.7 625.6,40.9 631.4,38.2C637.2,35.5 653.1,30.5 659.2,28.9C665.3,27.3 677.1,25.1 683.9,24.9C690.7,24.7 711.1,26.0 717.9,27.4C724.7,28.8 737.9,34.7 742.6,36.6C747.3,38.5 754.6,41.7 758.0,44.0C761.4,46.3 768.7,52.7 772.0,56.0C775.3,59.3 783.2,67.8 786.0,72.0C788.8,76.2 794.3,87.0 796.0,92.0C797.7,97.0 799.9,109.6 800.5,115.0C801.1,120.4 801.9,134.4 801.3,138.6C800.7,142.8 797.3,148.5 795.1,151.0C792.9,153.5 785.7,157.7 782.8,160.2C779.9,162.7 773.1,170.1 770.4,172.6C767.7,175.1 764.7,180.8 760.0,182.0C755.3,183.2 737.4,182.4 730.0,182.5C722.6,182.6 701.7,185.8 697.0,182.5C692.3,179.2 691.3,159.7 690.0,154.0C688.7,148.3 687.4,137.5 686.0,134.0C684.6,130.5 679.8,125.2 677.7,124.0C675.6,122.8 670.6,123.1 668.4,124.0C666.2,124.9 663.5,130.7 659.2,131.5C654.9,132.3 637.2,132.2 631.4,130.9C625.6,129.6 613.7,122.7 609.7,120.0C605.7,117.3 599.4,111.3 597.4,107.7C595.4,104.1 592.7,93.9 592.7,89.2Z" fill="#dedede"/>
<g clip-path="url(#cpsg)">
<path d="M592.7,89.2C592.7,84.5 595.4,71.8 597.4,67.5C599.4,63.2 605.7,55.5 609.7,52.1C613.7,48.7 625.6,40.9 631.4,38.2C637.2,35.5 653.1,30.5 659.2,28.9C665.3,27.3 677.1,25.1 683.9,24.9C690.7,24.7 711.1,26.0 717.9,27.4C724.7,28.8 737.9,34.7 742.6,36.6C747.3,38.5 754.6,41.7 758.0,44.0C761.4,46.3 768.7,52.7 772.0,56.0C775.3,59.3 783.2,67.8 786.0,72.0C788.8,76.2 794.3,87.0 796.0,92.0C797.7,97.0 799.9,109.6 800.5,115.0C801.1,120.4 801.9,134.4 801.3,138.6C800.7,142.8 797.3,148.5 795.1,151.0C792.9,153.5 785.7,157.7 782.8,160.2C779.9,162.7 773.1,170.1 770.4,172.6C767.7,175.1 764.7,180.8 760.0,182.0C755.3,183.2 737.4,182.4 730.0,182.5C722.6,182.6 701.7,185.8 697.0,182.5C692.3,179.2 691.3,159.7 690.0,154.0C688.7,148.3 687.4,137.5 686.0,134.0C684.6,130.5 679.8,125.2 677.7,124.0C675.6,122.8 670.6,123.1 668.4,124.0C666.2,124.9 663.5,130.7 659.2,131.5C654.9,132.3 637.2,132.2 631.4,130.9C625.6,129.6 613.7,122.7 609.7,120.0C605.7,117.3 599.4,111.3 597.4,107.7C595.4,104.1 592.7,93.9 592.7,89.2Z" fill="none" stroke="#9a9a9a" stroke-width="16" opacity="0.7" filter="url(#bl2)"/>
<ellipse cx="610" cy="88" rx="20" ry="34" fill="#666" opacity="0.85" filter="url(#bl3)"/>
<ellipse cx="640" cy="120" rx="26" ry="10" fill="#888" opacity="0.7" filter="url(#bl2)"/>
<path d="M634,112 C632,92 640,78 652,72" stroke="#f2f2f2" stroke-width="7" fill="none" filter="url(#bl1)"/>
<rect x="590" y="22" width="212" height="162" fill="#000" filter="url(#sulc2)" opacity="0.7"/>
<path d="M646,98 C648,84 664,75 688,75 C708,75 724,80 732,92" stroke="#f8f8f8" stroke-width="8" fill="none" filter="url(#bl1)"/>
<path d="M658.0,98.0C657.3,95.3 659.0,90.7 661.0,88.0C663.0,85.3 666.5,83.3 670.0,82.0C673.5,80.7 677.7,80.0 682.0,80.0C686.3,80.0 692.0,80.7 696.0,82.0C700.0,83.3 705.3,86.7 706.0,88.0C706.7,89.3 702.7,89.7 700.0,90.0C697.3,90.3 693.3,89.3 690.0,90.0C686.7,90.7 682.7,92.0 680.0,94.0C677.3,96.0 676.5,100.3 674.0,102.0C671.5,103.7 667.7,104.7 665.0,104.0C662.3,103.3 658.7,100.7 658.0,98.0Z" fill="#3c3c3c" filter="url(#bl05)"/>
<path d="M652.0,100.0C653.3,98.5 659.3,103.7 664.0,103.0C668.7,102.3 674.0,97.8 680.0,96.0C686.0,94.2 694.0,91.7 700.0,92.0C706.0,92.3 712.7,94.2 716.0,98.0C719.3,101.8 720.7,109.7 720.0,115.0C719.3,120.3 715.3,127.2 712.0,130.0C708.7,132.8 704.3,132.8 700.0,132.0C695.7,131.2 690.7,127.3 686.0,125.0C681.3,122.7 677.0,120.2 672.0,118.0C667.0,115.8 659.3,115.0 656.0,112.0C652.7,109.0 650.7,101.5 652.0,100.0Z" fill="#f6f6f6" filter="url(#bl1)"/>
<path d="M688,118 C700,116 712,122 714,135 C716,150 712,168 710,182 L694,182 C692,165 690,150 686,138 C684,128 684,120 688,118Z" fill="#fafafa" filter="url(#bl1)"/>
<path d="M699,98 C712,104 722,110 723,120 C724,140 726,160 726,182" stroke="#777" stroke-width="1.4" fill="none" filter="url(#bl05)"/>
<path d="M686,130 C690,145 692,165 694,182" stroke="#777" stroke-width="1.2" fill="none" filter="url(#bl05)"/>
<ellipse cx="744" cy="147" rx="24" ry="32" fill="#f0f0f0" filter="url(#bl2)"/>
<path d="M728,132 C738,138 746,146 750,156 M734,124 C746,132 756,144 760,160 M744,150 C752,158 756,168 758,178 M742,152 C740,162 738,170 736,180 M736,146 C730,152 726,160 724,170 M748,126 C758,132 766,142 770,152" stroke="#7a7a7a" stroke-width="1.3" fill="none" filter="url(#bl05)"/>
<path d="M722,112 C745,118 765,140 772,178" stroke="#999" stroke-width="1.4" fill="none"/>
</g>
<path d="M592.7,89.2C592.7,84.5 595.4,71.8 597.4,67.5C599.4,63.2 605.7,55.5 609.7,52.1C613.7,48.7 625.6,40.9 631.4,38.2C637.2,35.5 653.1,30.5 659.2,28.9C665.3,27.3 677.1,25.1 683.9,24.9C690.7,24.7 711.1,26.0 717.9,27.4C724.7,28.8 737.9,34.7 742.6,36.6C747.3,38.5 754.6,41.7 758.0,44.0C761.4,46.3 768.7,52.7 772.0,56.0C775.3,59.3 783.2,67.8 786.0,72.0C788.8,76.2 794.3,87.0 796.0,92.0C797.7,97.0 799.9,109.6 800.5,115.0C801.1,120.4 801.9,134.4 801.3,138.6C800.7,142.8 797.3,148.5 795.1,151.0C792.9,153.5 785.7,157.7 782.8,160.2C779.9,162.7 773.1,170.1 770.4,172.6C767.7,175.1 764.7,180.8 760.0,182.0C755.3,183.2 737.4,182.4 730.0,182.5C722.6,182.6 701.7,185.8 697.0,182.5C692.3,179.2 691.3,159.7 690.0,154.0C688.7,148.3 687.4,137.5 686.0,134.0C684.6,130.5 679.8,125.2 677.7,124.0C675.6,122.8 670.6,123.1 668.4,124.0C666.2,124.9 663.5,130.7 659.2,131.5C654.9,132.3 637.2,132.2 631.4,130.9C625.6,129.6 613.7,122.7 609.7,120.0C605.7,117.3 599.4,111.3 597.4,107.7C595.4,104.1 592.7,93.9 592.7,89.2Z" fill="none" stroke="#2a2a2a" stroke-width="1.6"/>
<path d="M620.0,66.0C621.1,64.7 625.1,62.8 627.0,62.0C628.9,61.2 632.9,59.5 634.0,60.0C635.1,60.5 635.4,64.4 635.0,66.0C634.6,67.6 632.5,71.0 631.0,72.0C629.5,73.0 625.6,73.5 624.0,73.5C622.4,73.5 619.5,73.0 619.0,72.0C618.5,71.0 618.9,67.3 620.0,66.0Z" fill="#f4f000"/>
<path d="M623.0,72.0C623.9,70.1 628.1,69.2 629.0,70.0C629.9,70.8 630.1,76.1 630.0,78.0C629.9,79.9 629.1,83.2 628.0,84.0C626.9,84.8 622.7,85.6 622.0,84.0C621.3,82.4 622.1,73.9 623.0,72.0Z" fill="#1414d8"/>
<path d="M617.0,77.0C617.8,75.9 620.9,74.8 622.0,76.0C623.1,77.2 624.7,84.0 625.0,86.0C625.3,88.0 624.8,90.5 624.0,91.0C623.2,91.5 620.1,90.9 619.0,90.0C617.9,89.1 616.3,85.7 616.0,84.0C615.7,82.3 616.2,78.1 617.0,77.0Z" fill="#1414d8"/>
<path d="M620.0,78.0C620.7,76.8 624.8,77.9 626.0,79.0C627.2,80.1 628.5,84.0 629.0,86.0C629.5,88.0 630.3,92.4 630.0,94.0C629.7,95.6 627.9,97.7 627.0,98.0C626.1,98.3 623.8,97.3 623.0,96.0C622.2,94.7 621.4,90.4 621.0,88.0C620.6,85.6 619.3,79.2 620.0,78.0Z" fill="#f04848"/>
<path d="M646.5,75.6 L747.5,64.6 M728.2,56.6 L749.5,64.6 L730,77.2" stroke="#000" stroke-width="5.2" stroke-linecap="round" stroke-linejoin="round" fill="none"/>
<rect x="758.6" y="9" width="61" height="99.2" fill="#8e8d84" stroke="#050505" stroke-width="3"/>
<path d="M777.4,19.3 L781,17 L786,14.5 L792,12.5 L798.7,11.2 L817,11.2 L817,13 L814,18.3 L810,24 L807.9,28.4 L804,33 L800.8,37.6 L797.7,40.6 L786.5,38.6 L779.4,41.6 L776.4,44.7 L776.4,34.5 L779.4,23.4Z" fill="#f6f33a"/>
<path d="M780.5,42.6 L788.6,37.6 L797.7,37.6 L798.7,62.9 L790.6,58.9 L780.5,52.8Z" fill="#1c1ce8"/>
<path d="M766.2,54.8 L769.3,52.8 L776.4,60.9 L780.5,85.3 L774.4,83.2 L765.2,77.2 L764.2,60.9Z" fill="#1c1ce8"/>
<path d="M769.3,52.8 L780.5,51.8 L790.6,56.9 L798.7,62.9 L802.8,79.2 L802.8,91.4 L794.7,101.5 L785.5,99.5 L782.5,85.3 L778.4,79.2 L776.4,60.9Z" fill="#ef4b4b"/>
<path d="M776,62 L788,60 L794,70 L790,80 L782,84 L778.4,76Z" fill="#e21e1e"/>
<clipPath id="cpst"><path d="M911.6,23.5C922.4,22.9 936.0,24.1 945.6,26.9C955.2,29.7 962.9,35.1 969.4,40.5C975.9,45.9 981.2,53.2 984.7,59.2C988.2,65.2 989.3,70.0 990.7,76.2C992.1,82.4 992.7,91.0 993.2,96.6C993.8,102.2 994.0,103.8 994.0,110.0C994.0,116.2 994.2,126.0 993.2,134.0C992.2,142.0 990.7,151.3 988.1,157.8C985.5,164.3 982.7,168.8 977.9,173.1C973.1,177.3 965.4,181.9 959.2,183.3C953.0,184.7 945.6,183.0 940.5,181.6C935.4,180.2 932.0,177.4 928.6,174.8C925.2,172.2 923.2,167.7 920.1,166.3C917.0,164.9 912.5,164.9 909.9,166.3C907.3,167.7 906.8,171.7 904.8,174.8C902.8,177.9 901.1,182.2 898.0,185.0C894.9,187.8 891.2,191.8 886.1,191.8C881.0,191.8 873.1,187.8 867.4,185.0C861.7,182.2 856.1,179.1 852.1,174.8C848.1,170.6 845.9,166.3 843.6,159.5C841.3,152.7 839.8,142.2 838.5,134.0C837.2,125.8 836.4,116.2 836.0,110.0C835.6,103.8 835.6,101.9 836.0,96.6C836.4,91.2 837.0,83.9 838.5,77.9C840.0,72.0 841.9,66.6 845.3,60.9C848.7,55.2 852.9,49.0 858.9,43.9C864.9,38.8 872.2,33.7 881.0,30.3C889.8,26.9 900.8,24.1 911.6,23.5Z"/></clipPath>
<path d="M911.6,23.5C922.4,22.9 936.0,24.1 945.6,26.9C955.2,29.7 962.9,35.1 969.4,40.5C975.9,45.9 981.2,53.2 984.7,59.2C988.2,65.2 989.3,70.0 990.7,76.2C992.1,82.4 992.7,91.0 993.2,96.6C993.8,102.2 994.0,103.8 994.0,110.0C994.0,116.2 994.2,126.0 993.2,134.0C992.2,142.0 990.7,151.3 988.1,157.8C985.5,164.3 982.7,168.8 977.9,173.1C973.1,177.3 965.4,181.9 959.2,183.3C953.0,184.7 945.6,183.0 940.5,181.6C935.4,180.2 932.0,177.4 928.6,174.8C925.2,172.2 923.2,167.7 920.1,166.3C917.0,164.9 912.5,164.9 909.9,166.3C907.3,167.7 906.8,171.7 904.8,174.8C902.8,177.9 901.1,182.2 898.0,185.0C894.9,187.8 891.2,191.8 886.1,191.8C881.0,191.8 873.1,187.8 867.4,185.0C861.7,182.2 856.1,179.1 852.1,174.8C848.1,170.6 845.9,166.3 843.6,159.5C841.3,152.7 839.8,142.2 838.5,134.0C837.2,125.8 836.4,116.2 836.0,110.0C835.6,103.8 835.6,101.9 836.0,96.6C836.4,91.2 837.0,83.9 838.5,77.9C840.0,72.0 841.9,66.6 845.3,60.9C848.7,55.2 852.9,49.0 858.9,43.9C864.9,38.8 872.2,33.7 881.0,30.3C889.8,26.9 900.8,24.1 911.6,23.5Z" fill="#6e6e6e"/>
<g clip-path="url(#cpst)">
<g filter="url(#wob)">
<path d="M880.0,70.0C885.3,66.0 894.5,63.3 900.0,66.0C905.5,68.7 908.7,86.0 913.0,86.0C917.3,86.0 920.5,68.7 926.0,66.0C931.5,63.3 940.7,66.0 946.0,70.0C951.3,74.0 956.5,82.5 958.0,90.0C959.5,97.5 956.7,106.7 955.0,115.0C953.3,123.3 952.2,134.8 948.0,140.0C943.8,145.2 935.8,145.0 930.0,146.0C924.2,147.0 918.7,146.0 913.0,146.0C907.3,146.0 901.8,147.0 896.0,146.0C890.2,145.0 882.3,145.2 878.0,140.0C873.7,134.8 871.7,123.3 870.0,115.0C868.3,106.7 866.3,97.5 868.0,90.0C869.7,82.5 874.7,74.0 880.0,70.0Z" fill="#eeeeee" filter="url(#bl1)"/>
<path d="M890.3,67.6L871.0,49.1A2.5,2.5 0 0 0 867.2,52.3L881.9,74.6ZM882.7,74.4L856.3,68.7A2.5,2.5 0 0 0 854.7,73.5L879.3,84.8ZM877.6,80.9L847.0,83.9A2.5,2.5 0 0 0 847.0,88.9L877.6,91.9ZM899.8,64.3L888.5,39.7A2.5,2.5 0 0 0 883.7,41.3L889.4,67.7ZM908.6,65.7L903.9,35.3A2.5,2.5 0 0 0 898.9,35.5L897.6,66.3ZM930.7,66.0L927.7,35.4A2.5,2.5 0 0 0 922.7,35.4L919.7,66.0ZM937.1,68.0L942.8,44.8A2.5,2.5 0 0 0 938.2,43.0L926.9,64.0ZM946.1,75.0L961.0,55.9A2.5,2.5 0 0 0 957.4,52.3L938.3,67.2ZM947.2,84.9L975.2,73.5A2.5,2.5 0 0 0 973.8,68.7L944.0,74.3ZM949.0,91.9L979.6,88.9A2.5,2.5 0 0 0 979.6,83.9L949.0,80.9ZM873.5,94.7L845.3,105.6A2.5,2.5 0 0 0 846.7,110.4L876.5,105.3ZM948.6,105.3L979.4,110.4A2.5,2.5 0 0 0 980.6,105.6L951.4,94.7ZM869.5,113.1L846.9,127.8A2.5,2.5 0 0 0 849.1,132.2L874.5,122.9ZM949.7,123.0L977.0,132.3A2.5,2.5 0 0 0 979.0,127.7L954.3,113.0Z" fill="#f0f0f0"/>
<path d="M878.0,57.7L863.1,46.7A1.8,1.8 0 0 0 860.9,49.3L874.0,62.3ZM892.9,46.8L895.7,32.5A1.8,1.8 0 0 0 892.3,31.5L887.1,45.2ZM953.0,45.6L949.7,31.8A1.8,1.8 0 0 0 946.3,32.2L947.0,46.4ZM956.7,64.5L971.0,53.5A1.8,1.8 0 0 0 969.0,50.5L953.3,59.5ZM867.7,93.0L847.8,96.3A1.8,1.8 0 0 0 848.2,99.7L868.3,99.0ZM957.7,99.0L977.8,99.7A1.8,1.8 0 0 0 978.2,96.3L958.3,93.0Z" fill="#f0f0f0"/>
</g>
<path d="M911.6,23.5C922.4,22.9 936.0,24.1 945.6,26.9C955.2,29.7 962.9,35.1 969.4,40.5C975.9,45.9 981.2,53.2 984.7,59.2C988.2,65.2 989.3,70.0 990.7,76.2C992.1,82.4 992.7,91.0 993.2,96.6C993.8,102.2 994.0,103.8 994.0,110.0C994.0,116.2 994.2,126.0 993.2,134.0C992.2,142.0 990.7,151.3 988.1,157.8C985.5,164.3 982.7,168.8 977.9,173.1C973.1,177.3 965.4,181.9 959.2,183.3C953.0,184.7 945.6,183.0 940.5,181.6C935.4,180.2 932.0,177.4 928.6,174.8C925.2,172.2 923.2,167.7 920.1,166.3C917.0,164.9 912.5,164.9 909.9,166.3C907.3,167.7 906.8,171.7 904.8,174.8C902.8,177.9 901.1,182.2 898.0,185.0C894.9,187.8 891.2,191.8 886.1,191.8C881.0,191.8 873.1,187.8 867.4,185.0C861.7,182.2 856.1,179.1 852.1,174.8C848.1,170.6 845.9,166.3 843.6,159.5C841.3,152.7 839.8,142.2 838.5,134.0C837.2,125.8 836.4,116.2 836.0,110.0C835.6,103.8 835.6,101.9 836.0,96.6C836.4,91.2 837.0,83.9 838.5,77.9C840.0,72.0 841.9,66.6 845.3,60.9C848.7,55.2 852.9,49.0 858.9,43.9C864.9,38.8 872.2,33.7 881.0,30.3C889.8,26.9 900.8,24.1 911.6,23.5Z" fill="none" stroke="#555" stroke-width="8" opacity="0.6" filter="url(#bl1)"/>
<mask id="mkst"><path d="M911.6,23.5C922.4,22.9 936.0,24.1 945.6,26.9C955.2,29.7 962.9,35.1 969.4,40.5C975.9,45.9 981.2,53.2 984.7,59.2C988.2,65.2 989.3,70.0 990.7,76.2C992.1,82.4 992.7,91.0 993.2,96.6C993.8,102.2 994.0,103.8 994.0,110.0C994.0,116.2 994.2,126.0 993.2,134.0C992.2,142.0 990.7,151.3 988.1,157.8C985.5,164.3 982.7,168.8 977.9,173.1C973.1,177.3 965.4,181.9 959.2,183.3C953.0,184.7 945.6,183.0 940.5,181.6C935.4,180.2 932.0,177.4 928.6,174.8C925.2,172.2 923.2,167.7 920.1,166.3C917.0,164.9 912.5,164.9 909.9,166.3C907.3,167.7 906.8,171.7 904.8,174.8C902.8,177.9 901.1,182.2 898.0,185.0C894.9,187.8 891.2,191.8 886.1,191.8C881.0,191.8 873.1,187.8 867.4,185.0C861.7,182.2 856.1,179.1 852.1,174.8C848.1,170.6 845.9,166.3 843.6,159.5C841.3,152.7 839.8,142.2 838.5,134.0C837.2,125.8 836.4,116.2 836.0,110.0C835.6,103.8 835.6,101.9 836.0,96.6C836.4,91.2 837.0,83.9 838.5,77.9C840.0,72.0 841.9,66.6 845.3,60.9C848.7,55.2 852.9,49.0 858.9,43.9C864.9,38.8 872.2,33.7 881.0,30.3C889.8,26.9 900.8,24.1 911.6,23.5Z" fill="none" stroke="#fff" stroke-width="34" filter="url(#bl2)"/></mask>
<rect x="833" y="20" width="164" height="175" fill="#000" filter="url(#sulc)" mask="url(#mkst)" opacity="0.8"/>
<path d="M903.0,54.0C905.0,50.3 909.0,50.0 913.0,50.0C917.0,50.0 924.8,50.3 927.0,54.0C929.2,57.7 927.3,66.7 926.0,72.0C924.7,77.3 921.2,83.3 919.0,86.0C916.8,88.7 915.0,88.0 913.0,88.0C911.0,88.0 909.0,88.7 907.0,86.0C905.0,83.3 901.7,77.3 901.0,72.0C900.3,66.7 901.0,57.7 903.0,54.0Z" fill="#6a6a6a" filter="url(#bl1)"/>
<path d="M913,25 L913,84" stroke="#3a3a3a" stroke-width="2" filter="url(#bl05)"/>
<path d="M902,92 C906,90 910,92 912.3,97 L912.3,118 C910,114 908,106 905,100Z" fill="#252525" filter="url(#bl05)"/>
<path d="M924,92 C920,90 916,92 914.2,97 L914.2,118 C916,114 918,106 921,100Z" fill="#252525" filter="url(#bl05)"/>
<path d="M845.0,145.0C848.3,139.7 860.8,139.8 870.0,140.0C879.2,140.2 893.7,141.0 900.0,146.0C906.3,151.0 908.3,163.0 908.0,170.0C907.7,177.0 904.3,185.3 898.0,188.0C891.7,190.7 878.0,188.7 870.0,186.0C862.0,183.3 854.2,178.8 850.0,172.0C845.8,165.2 841.7,150.3 845.0,145.0Z" fill="#a2a2a2" filter="url(#bl2)"/>
<path d="M928.0,146.0C932.5,141.0 945.5,140.2 955.0,140.0C964.5,139.8 979.5,141.7 985.0,145.0C990.5,148.3 989.7,154.8 988.0,160.0C986.3,165.2 982.2,172.3 975.0,176.0C967.8,179.7 952.8,183.0 945.0,182.0C937.2,181.0 930.8,176.0 928.0,170.0C925.2,164.0 923.5,151.0 928.0,146.0Z" fill="#a2a2a2" filter="url(#bl2)"/>
<path d="M885.0,150.0L866.0,168.0M945.0,150.0L964.0,168.0" stroke="#c4c4c4" stroke-width="5" stroke-linecap="round" fill="none" filter="url(#bl2)"/>
<mask id="mkstl"><path d="M845.0,145.0C848.3,139.3 860.8,137.8 870.0,138.0C879.2,138.2 893.7,140.7 900.0,146.0C906.3,151.3 908.3,162.7 908.0,170.0C907.7,177.3 904.3,187.0 898.0,190.0C891.7,193.0 878.0,191.0 870.0,188.0C862.0,185.0 854.2,179.2 850.0,172.0C845.8,164.8 841.7,150.7 845.0,145.0Z" fill="#fff" filter="url(#bl2)"/><path d="M928.0,146.0C932.5,140.7 945.5,138.2 955.0,138.0C964.5,137.8 979.5,141.3 985.0,145.0C990.5,148.7 989.7,154.5 988.0,160.0C986.3,165.5 982.2,174.0 975.0,178.0C967.8,182.0 952.8,185.3 945.0,184.0C937.2,182.7 930.8,176.3 928.0,170.0C925.2,163.7 923.5,151.3 928.0,146.0Z" fill="#fff" filter="url(#bl2)"/></mask>
<rect x="838" y="135" width="155" height="60" fill="#000" filter="url(#sulc2)" mask="url(#mkstl)" opacity="0.8"/>
<path d="M895,136 C905,133 925,133 935,136 L932,142 C920,140 908,140 898,142Z" fill="#fafafa" filter="url(#bl05)"/>
</g>
<path d="M911.6,23.5C922.4,22.9 936.0,24.1 945.6,26.9C955.2,29.7 962.9,35.1 969.4,40.5C975.9,45.9 981.2,53.2 984.7,59.2C988.2,65.2 989.3,70.0 990.7,76.2C992.1,82.4 992.7,91.0 993.2,96.6C993.8,102.2 994.0,103.8 994.0,110.0C994.0,116.2 994.2,126.0 993.2,134.0C992.2,142.0 990.7,151.3 988.1,157.8C985.5,164.3 982.7,168.8 977.9,173.1C973.1,177.3 965.4,181.9 959.2,183.3C953.0,184.7 945.6,183.0 940.5,181.6C935.4,180.2 932.0,177.4 928.6,174.8C925.2,172.2 923.2,167.7 920.1,166.3C917.0,164.9 912.5,164.9 909.9,166.3C907.3,167.7 906.8,171.7 904.8,174.8C902.8,177.9 901.1,182.2 898.0,185.0C894.9,187.8 891.2,191.8 886.1,191.8C881.0,191.8 873.1,187.8 867.4,185.0C861.7,182.2 856.1,179.1 852.1,174.8C848.1,170.6 845.9,166.3 843.6,159.5C841.3,152.7 839.8,142.2 838.5,134.0C837.2,125.8 836.4,116.2 836.0,110.0C835.6,103.8 835.6,101.9 836.0,96.6C836.4,91.2 837.0,83.9 838.5,77.9C840.0,72.0 841.9,66.6 845.3,60.9C848.7,55.2 852.9,49.0 858.9,43.9C864.9,38.8 872.2,33.7 881.0,30.3C889.8,26.9 900.8,24.1 911.6,23.5Z" fill="none" stroke="#141414" stroke-width="2.8"/>
<path d="M894.0,102.0C895.0,99.4 898.0,100.3 900.0,100.5C902.0,100.7 904.5,101.4 906.0,103.0C907.5,104.6 907.7,107.7 909.0,110.0C910.3,112.3 913.0,114.7 914.0,117.0C915.0,119.3 915.7,122.2 915.0,124.0C914.3,125.8 912.2,127.0 910.0,128.0C907.8,129.0 904.5,129.3 902.0,130.0C899.5,130.7 896.5,132.7 895.0,132.0C893.5,131.3 893.1,128.7 892.9,126.0C892.7,123.3 893.8,120.0 894.0,116.0C894.2,112.0 893.0,104.6 894.0,102.0Z" fill="#ee4040"/>
<path d="M895.0,104.0C895.7,102.5 898.5,102.5 900.0,103.0C901.5,103.5 903.1,105.2 904.0,107.0C904.9,108.8 905.8,112.1 905.5,114.0C905.2,115.9 903.1,118.3 902.0,118.5C900.9,118.7 900.0,116.1 899.0,115.0C898.0,113.9 896.7,113.8 896.0,112.0C895.3,110.2 894.3,105.5 895.0,104.0Z" fill="#f4f000"/>
<path d="M924.4,108.0C925.4,105.6 926.2,103.6 928.0,102.6C929.8,101.6 933.0,101.1 935.0,102.0C937.0,102.9 938.6,105.7 940.0,108.0C941.4,110.3 942.4,113.3 943.1,116.0C943.8,118.7 943.6,121.3 944.0,124.0C944.4,126.7 946.6,130.1 945.6,132.0C944.6,133.9 940.9,135.3 938.0,135.5C935.1,135.7 930.7,134.9 928.0,133.0C925.3,131.1 923.0,126.7 922.0,124.0C921.0,121.3 921.4,119.7 921.8,117.0C922.2,114.3 923.4,110.4 924.4,108.0Z" fill="#ee4040"/>
<path d="M924.5,106.0C925.0,104.4 926.2,103.3 928.0,102.6C929.8,101.9 933.0,101.1 935.0,102.0C937.0,102.9 938.7,105.7 940.0,108.0C941.3,110.3 942.8,113.7 943.0,116.0C943.2,118.3 942.3,121.3 941.0,122.0C939.7,122.7 937.0,121.0 935.0,120.0C933.0,119.0 930.7,117.3 929.0,116.0C927.3,114.7 925.8,113.7 925.0,112.0C924.2,110.3 924.0,107.6 924.5,106.0Z" fill="#f4f000"/>
<!-- titles -->
<text x="250.4" y="220.2" text-anchor="middle" class="tt">ITOJ/TPJ</text>
<text x="464.8" y="223.4" text-anchor="middle" class="tt">rTP</text>
<text x="690.1" y="223.4" text-anchor="middle" class="tt">mPFC</text>
<text x="916" y="220.2" text-anchor="middle" class="tt">STR</text>
<!-- row labels -->
<text x="13.4" y="257.2" class="rl" textLength="90.5" lengthAdjust="spacingAndGlyphs">In Early HC</text>
<text x="22.8" y="277.2" class="rl" textLength="71" lengthAdjust="spacingAndGlyphs">Regions:</text>
<text x="16.2" y="427.2" class="rl" textLength="84" lengthAdjust="spacingAndGlyphs">In Late HC</text>
<text x="21.8" y="445.7" class="rl" textLength="72.5" lengthAdjust="spacingAndGlyphs">Regions:</text>
<!-- legends -->
<rect x="13.5" y="302.9" width="99" height="60.2" fill="#fff" stroke="#555" stroke-width="1"/>
<text x="25.2" y="321.4" class="lg">HC</text>
<text x="25.2" y="348.6" class="lg">HA</text>
<path d="M66.2,319.3h30.7" stroke="#ff0000" stroke-width="5.2"/>
<path d="M66.2,346.5h30.7" stroke="#000" stroke-width="5.2"/>
<rect x="13.5" y="469.7" width="99" height="60.2" fill="#fff" stroke="#555" stroke-width="1"/>
<text x="25.2" y="488.2" class="lg">HC</text>
<text x="25.2" y="515.4" class="lg">HA</text>
<path d="M66.2,486.3h30.7" stroke="#0000ff" stroke-width="5.2"/>
<path d="M66.2,513.5h30.7" stroke="#000" stroke-width="5.2"/>
<!-- y labels -->
<text transform="translate(135.6,297.8) rotate(-90)" text-anchor="middle" class="yl" textLength="129.5" lengthAdjust="spacingAndGlyphs">%BOLD Change</text>
<text transform="translate(135.6,468.8) rotate(-90)" text-anchor="middle" class="yl" textLength="128.8" lengthAdjust="spacingAndGlyphs">%BOLD Change</text>
<!-- not defined -->
<text x="467.5" y="278.9" text-anchor="middle" class="nd">Localization</text>
<text x="467.2" y="299" text-anchor="middle" class="nd">Not</text>
<text x="467.2" y="319.2" text-anchor="middle" class="nd">Defined</text>
<text x="914.4" y="447.5" text-anchor="middle" class="nd">Localization</text>
<text x="914.4" y="467.4" text-anchor="middle" class="nd">Not</text>
<text x="914.4" y="488" text-anchor="middle" class="nd">Defined</text>
<path d="M168.5,245.9V372.2H327.4" fill="none" stroke="#8a8a8a" stroke-width="1.2"/>
<path d="M168.5,246.4h2" stroke="#8a8a8a" stroke-width="1"/>
<text x="165.0" y="250.3" text-anchor="end" class="tk">0.3</text>
<path d="M168.5,271.6h2" stroke="#8a8a8a" stroke-width="1"/>
<text x="165.0" y="275.5" text-anchor="end" class="tk">0.2</text>
<path d="M168.5,296.7h2" stroke="#8a8a8a" stroke-width="1"/>
<text x="165.0" y="300.6" text-anchor="end" class="tk">0.1</text>
<path d="M168.5,321.9h2" stroke="#8a8a8a" stroke-width="1"/>
<text x="165.0" y="325.8" text-anchor="end" class="tk">0</text>
<path d="M168.5,347.0h2" stroke="#8a8a8a" stroke-width="1"/>
<text x="165.0" y="350.9" text-anchor="end" class="tk">-0.1</text>
<path d="M168.5,372.2h2" stroke="#8a8a8a" stroke-width="1"/>
<text x="165.0" y="376.1" text-anchor="end" class="tk">-0.2</text>
<path d="M181.6,372.2v-2" stroke="#8a8a8a" stroke-width="1"/>
<path d="M194.9,372.2v-2" stroke="#8a8a8a" stroke-width="1"/>
<path d="M208.1,372.2v-2" stroke="#8a8a8a" stroke-width="1"/>
<path d="M221.4,372.2v-2" stroke="#8a8a8a" stroke-width="1"/>
<path d="M234.6,372.2v-2" stroke="#8a8a8a" stroke-width="1"/>
<path d="M247.9,372.2v-2" stroke="#8a8a8a" stroke-width="1"/>
<path d="M261.2,372.2v-2" stroke="#8a8a8a" stroke-width="1"/>
<path d="M274.4,372.2v-2" stroke="#8a8a8a" stroke-width="1"/>
<path d="M287.7,372.2v-2" stroke="#8a8a8a" stroke-width="1"/>
<path d="M300.9,372.2v-2" stroke="#8a8a8a" stroke-width="1"/>
<path d="M314.2,372.2v-2" stroke="#8a8a8a" stroke-width="1"/>
<path d="M181.6,320.5 L194.9,319.5 L208.1,299.3 L221.4,282.6 L234.6,281.8 L247.9,296.4 L261.2,313.1 L274.4,309.2 L287.7,300.9 L300.9,310.6 L314.2,329" fill="none" stroke="#ff0000" stroke-width="1.9" stroke-linejoin="round"/>
<path d="M181.6,317.6V324.8M194.9,311.7V327.5M208.1,296.1V301.5M221.4,280.5V285M234.6,278.5V285M247.9,289V302.6M261.2,306.3V320.9M274.4,306.3V314.1M287.7,296V305.7M300.9,306.3V315M314.2,327.3V335.4" stroke="#ff0000" stroke-width="1.8"/>
<path d="M179.0,318.2h5.2M179.0,324.2h5.2M192.3,312.3h5.2M192.3,326.9h5.2M205.5,296.7h5.2M205.5,300.9h5.2M218.8,281.1h5.2M218.8,284.4h5.2M232.0,279.1h5.2M232.0,284.4h5.2M245.3,289.6h5.2M245.3,302.0h5.2M258.6,306.9h5.2M258.6,320.3h5.2M271.8,306.9h5.2M271.8,313.5h5.2M285.1,296.6h5.2M285.1,305.1h5.2M298.3,306.9h5.2M298.3,314.4h5.2M311.6,327.9h5.2M311.6,334.8h5.2" stroke="#ff0000" stroke-width="2.2"/>
<path d="M181.6,315.2 L194.9,301.2 L208.1,292.9 L221.4,284.7 L234.6,277.8 L247.9,271.8 L261.2,280.1 L274.4,305.7 L287.7,317 L300.9,331.6 L314.2,340.9" fill="none" stroke="#000000" stroke-width="1.9" stroke-linejoin="round"/>
<path d="M181.6,310.8V319.5M194.9,296.4V305.7M208.1,285.8V298.5M221.4,276.2V294.9M234.6,266.2V289M247.9,258.7V284.4M261.2,268.8V291.2M274.4,297.6V314.1M287.7,313.1V322.2M300.9,327.7V337.4M314.2,337V347.5" stroke="#000000" stroke-width="1.8"/>
<path d="M179.0,311.4h5.2M179.0,318.9h5.2M192.3,297.0h5.2M192.3,305.1h5.2M205.5,286.4h5.2M205.5,297.9h5.2M218.8,276.8h5.2M218.8,294.3h5.2M232.0,266.8h5.2M232.0,288.4h5.2M245.3,259.3h5.2M245.3,283.8h5.2M258.6,269.4h5.2M258.6,290.6h5.2M271.8,298.2h5.2M271.8,313.5h5.2M285.1,313.7h5.2M285.1,321.6h5.2M298.3,328.3h5.2M298.3,336.8h5.2M311.6,337.6h5.2M311.6,346.9h5.2" stroke="#000000" stroke-width="2.2"/>
<path d="M166.6,400.1V526.2H326.0" fill="none" stroke="#8a8a8a" stroke-width="1.2"/>
<path d="M166.6,400.6h2" stroke="#8a8a8a" stroke-width="1"/>
<text x="163.1" y="404.5" text-anchor="end" class="tk">0.3</text>
<path d="M166.6,425.7h2" stroke="#8a8a8a" stroke-width="1"/>
<text x="163.1" y="429.6" text-anchor="end" class="tk">0.2</text>
<path d="M166.6,450.8h2" stroke="#8a8a8a" stroke-width="1"/>
<text x="163.1" y="454.7" text-anchor="end" class="tk">0.1</text>
<path d="M166.6,476.0h2" stroke="#8a8a8a" stroke-width="1"/>
<text x="163.1" y="479.9" text-anchor="end" class="tk">0</text>
<path d="M166.6,501.1h2" stroke="#8a8a8a" stroke-width="1"/>
<text x="163.1" y="505.0" text-anchor="end" class="tk">-0.1</text>
<path d="M166.6,526.2h2" stroke="#8a8a8a" stroke-width="1"/>
<text x="163.1" y="530.1" text-anchor="end" class="tk">-0.2</text>
<path d="M180.0,526.2v-2" stroke="#8a8a8a" stroke-width="1"/>
<text x="180.0" y="539.0" text-anchor="middle" class="tk">0</text>
<path d="M193.3,526.2v-2" stroke="#8a8a8a" stroke-width="1"/>
<text x="193.3" y="539.0" text-anchor="middle" class="tk">2</text>
<path d="M206.6,526.2v-2" stroke="#8a8a8a" stroke-width="1"/>
<text x="206.6" y="539.0" text-anchor="middle" class="tk">4</text>
<path d="M219.8,526.2v-2" stroke="#8a8a8a" stroke-width="1"/>
<text x="219.8" y="539.0" text-anchor="middle" class="tk">6</text>
<path d="M233.1,526.2v-2" stroke="#8a8a8a" stroke-width="1"/>
<text x="233.1" y="539.0" text-anchor="middle" class="tk">8</text>
<path d="M246.4,526.2v-2" stroke="#8a8a8a" stroke-width="1"/>
<text x="246.4" y="539.0" text-anchor="middle" class="tk">10</text>
<path d="M259.7,526.2v-2" stroke="#8a8a8a" stroke-width="1"/>
<text x="259.7" y="539.0" text-anchor="middle" class="tk">12</text>
<path d="M273.0,526.2v-2" stroke="#8a8a8a" stroke-width="1"/>
<text x="273.0" y="539.0" text-anchor="middle" class="tk">14</text>
<path d="M286.2,526.2v-2" stroke="#8a8a8a" stroke-width="1"/>
<text x="286.2" y="539.0" text-anchor="middle" class="tk">16</text>
<path d="M299.5,526.2v-2" stroke="#8a8a8a" stroke-width="1"/>
<text x="299.5" y="539.0" text-anchor="middle" class="tk">18</text>
<path d="M312.8,526.2v-2" stroke="#8a8a8a" stroke-width="1"/>
<text x="312.8" y="539.0" text-anchor="middle" class="tk">20</text>
<text x="245.2" y="559.4" text-anchor="middle" class="tm">Time</text>
<path d="M180.0,480.3 L193.3,481.1 L206.6,467.6 L219.8,458.8 L233.1,461.6 L246.4,463.3 L259.7,459.2 L273.0,449.5 L286.2,448.5 L299.5,456.3 L312.8,455.3" fill="none" stroke="#0000ff" stroke-width="1.9" stroke-linejoin="round"/>
<path d="M180.0,477.9V482.7M193.3,476.3V487.5M206.6,463.6V471.6M219.8,454.9V462.8M233.1,456V466.8M246.4,458.2V469.9M259.7,450.9V467M273.0,439.8V458.6M286.2,438.8V458.6M299.5,447.2V466M312.8,449.5V461.7" stroke="#0000ff" stroke-width="1.8"/>
<path d="M177.4,478.5h5.2M177.4,482.1h5.2M190.7,476.9h5.2M190.7,486.9h5.2M204.0,464.2h5.2M204.0,471.0h5.2M217.2,455.5h5.2M217.2,462.2h5.2M230.5,456.6h5.2M230.5,466.2h5.2M243.8,458.8h5.2M243.8,469.3h5.2M257.1,451.5h5.2M257.1,466.4h5.2M270.4,440.4h5.2M270.4,458.0h5.2M283.6,439.4h5.2M283.6,458.0h5.2M296.9,447.8h5.2M296.9,465.4h5.2M310.2,450.1h5.2M310.2,461.1h5.2" stroke="#0000ff" stroke-width="2.2"/>
<path d="M180.0,476.7 L193.3,477.9 L206.6,464.4 L219.8,433.4 L233.1,417.8 L246.4,439.3 L259.7,464.1 L273.0,471.5 L286.2,476.7 L299.5,492.8 L312.8,495.1" fill="none" stroke="#000000" stroke-width="1.9" stroke-linejoin="round"/>
<path d="M180.0,471.3V481.1M193.3,473.5V481.9M206.6,459.6V469.2M219.8,425.1V440.1M233.1,407.2V427.8M246.4,428.6V448.5M259.7,459.2V469.5M273.0,466V477.3M286.2,471.8V481.6M299.5,488.3V498.1M312.8,491.3V501.4" stroke="#000000" stroke-width="1.8"/>
<path d="M177.4,471.9h5.2M177.4,480.5h5.2M190.7,474.1h5.2M190.7,481.3h5.2M204.0,460.2h5.2M204.0,468.6h5.2M217.2,425.7h5.2M217.2,439.5h5.2M230.5,407.8h5.2M230.5,427.2h5.2M243.8,429.2h5.2M243.8,447.9h5.2M257.1,459.8h5.2M257.1,468.9h5.2M270.4,466.6h5.2M270.4,476.7h5.2M283.6,472.4h5.2M283.6,481.0h5.2M296.9,488.9h5.2M296.9,497.5h5.2M310.2,491.9h5.2M310.2,500.8h5.2" stroke="#000000" stroke-width="2.2"/>
<path d="M394.0,399.9V525.5H553.2" fill="none" stroke="#8a8a8a" stroke-width="1.2"/>
<path d="M394.0,400.4h2" stroke="#8a8a8a" stroke-width="1"/>
<text x="390.5" y="404.3" text-anchor="end" class="tk">0.3</text>
<path d="M394.0,431.7h2" stroke="#8a8a8a" stroke-width="1"/>
<text x="390.5" y="435.6" text-anchor="end" class="tk">0.2</text>
<path d="M394.0,462.9h2" stroke="#8a8a8a" stroke-width="1"/>
<text x="390.5" y="466.8" text-anchor="end" class="tk">0.1</text>
<path d="M394.0,494.2h2" stroke="#8a8a8a" stroke-width="1"/>
<text x="390.5" y="498.1" text-anchor="end" class="tk">0</text>
<path d="M394.0,525.5h2" stroke="#8a8a8a" stroke-width="1"/>
<text x="390.5" y="529.4" text-anchor="end" class="tk">-0.1</text>
<path d="M407.4,525.5v-2" stroke="#8a8a8a" stroke-width="1"/>
<text x="407.4" y="538.6" text-anchor="middle" class="tk">0</text>
<path d="M420.7,525.5v-2" stroke="#8a8a8a" stroke-width="1"/>
<text x="420.7" y="538.6" text-anchor="middle" class="tk">2</text>
<path d="M433.9,525.5v-2" stroke="#8a8a8a" stroke-width="1"/>
<text x="433.9" y="538.6" text-anchor="middle" class="tk">4</text>
<path d="M447.2,525.5v-2" stroke="#8a8a8a" stroke-width="1"/>
<text x="447.2" y="538.6" text-anchor="middle" class="tk">6</text>
<path d="M460.4,525.5v-2" stroke="#8a8a8a" stroke-width="1"/>
<text x="460.4" y="538.6" text-anchor="middle" class="tk">8</text>
<path d="M473.7,525.5v-2" stroke="#8a8a8a" stroke-width="1"/>
<text x="473.7" y="538.6" text-anchor="middle" class="tk">10</text>
<path d="M487.0,525.5v-2" stroke="#8a8a8a" stroke-width="1"/>
<text x="487.0" y="538.6" text-anchor="middle" class="tk">12</text>
<path d="M500.2,525.5v-2" stroke="#8a8a8a" stroke-width="1"/>
<text x="500.2" y="538.6" text-anchor="middle" class="tk">14</text>
<path d="M513.5,525.5v-2" stroke="#8a8a8a" stroke-width="1"/>
<text x="513.5" y="538.6" text-anchor="middle" class="tk">16</text>
<path d="M526.7,525.5v-2" stroke="#8a8a8a" stroke-width="1"/>
<text x="526.7" y="538.6" text-anchor="middle" class="tk">18</text>
<path d="M540.0,525.5v-2" stroke="#8a8a8a" stroke-width="1"/>
<text x="540.0" y="538.6" text-anchor="middle" class="tk">20</text>
<text x="472.5" y="559.4" text-anchor="middle" class="tm">Time</text>
<path d="M407.4,504.3 L420.7,502.1 L433.9,463 L447.2,453.7 L460.4,462.5 L473.7,475.2 L487.0,469.4 L500.2,456 L513.5,462.7 L526.7,486.2 L540.0,486.2" fill="none" stroke="#0000ff" stroke-width="1.9" stroke-linejoin="round"/>
<path d="M407.4,496.1V513.8M420.7,489.5V513.8M433.9,454.1V470.7M447.2,443.8V463.6M460.4,453V471.8M473.7,466.6V486.2M487.0,458.5V480.3M500.2,443.1V468.9M513.5,452.1V473.6M526.7,475.3V496.8M540.0,477.3V494.6" stroke="#0000ff" stroke-width="1.8"/>
<path d="M404.8,496.7h5.2M404.8,513.2h5.2M418.1,490.1h5.2M418.1,513.2h5.2M431.3,454.7h5.2M431.3,470.1h5.2M444.6,444.4h5.2M444.6,463.0h5.2M457.8,453.6h5.2M457.8,471.2h5.2M471.1,467.2h5.2M471.1,485.6h5.2M484.4,459.1h5.2M484.4,479.7h5.2M497.6,443.7h5.2M497.6,468.3h5.2M510.9,452.7h5.2M510.9,473.0h5.2M524.1,475.9h5.2M524.1,496.2h5.2M537.4,477.9h5.2M537.4,494.0h5.2" stroke="#0000ff" stroke-width="2.2"/>
<path d="M407.4,496.1 L420.7,489.5 L433.9,445.3 L447.2,423.2 L460.4,423.9 L473.7,471.5 L487.0,483.3 L500.2,497.9 L513.5,487 L526.7,507.1 L540.0,503.5" fill="none" stroke="#000000" stroke-width="1.9" stroke-linejoin="round"/>
<path d="M407.4,485.7V507.2M420.7,475.1V502.8M433.9,428.7V459.7M447.2,407.1V438.7M460.4,409.3V439.3M473.7,457.2V484.4M487.0,473.9V493.7M500.2,490V507.1M513.5,477.8V496.2M526.7,496.8V517.2M540.0,494.6V512.2" stroke="#000000" stroke-width="1.8"/>
<path d="M404.8,486.3h5.2M404.8,506.6h5.2M418.1,475.7h5.2M418.1,502.2h5.2M431.3,429.3h5.2M431.3,459.1h5.2M444.6,407.7h5.2M444.6,438.1h5.2M457.8,409.9h5.2M457.8,438.7h5.2M471.1,457.8h5.2M471.1,483.8h5.2M484.4,474.5h5.2M484.4,493.1h5.2M497.6,490.6h5.2M497.6,506.5h5.2M510.9,478.4h5.2M510.9,495.6h5.2M524.1,497.4h5.2M524.1,516.6h5.2M537.4,495.2h5.2M537.4,511.6h5.2" stroke="#000000" stroke-width="2.2"/>
<path d="M602.6,245.7V371.4H761.6" fill="none" stroke="#8a8a8a" stroke-width="1.2"/>
<path d="M602.6,246.2h2" stroke="#8a8a8a" stroke-width="1"/>
<text x="599.1" y="250.1" text-anchor="end" class="tk">0.3</text>
<path d="M602.6,277.5h2" stroke="#8a8a8a" stroke-width="1"/>
<text x="599.1" y="281.4" text-anchor="end" class="tk">0.2</text>
<path d="M602.6,308.8h2" stroke="#8a8a8a" stroke-width="1"/>
<text x="599.1" y="312.7" text-anchor="end" class="tk">0.1</text>
<path d="M602.6,340.1h2" stroke="#8a8a8a" stroke-width="1"/>
<text x="599.1" y="344.0" text-anchor="end" class="tk">0</text>
<path d="M602.6,371.4h2" stroke="#8a8a8a" stroke-width="1"/>
<text x="599.1" y="375.3" text-anchor="end" class="tk">-0.1</text>
<path d="M616.0,371.4v-2" stroke="#8a8a8a" stroke-width="1"/>
<path d="M629.3,371.4v-2" stroke="#8a8a8a" stroke-width="1"/>
<path d="M642.6,371.4v-2" stroke="#8a8a8a" stroke-width="1"/>
<path d="M655.8,371.4v-2" stroke="#8a8a8a" stroke-width="1"/>
<path d="M669.1,371.4v-2" stroke="#8a8a8a" stroke-width="1"/>
<path d="M682.4,371.4v-2" stroke="#8a8a8a" stroke-width="1"/>
<path d="M695.7,371.4v-2" stroke="#8a8a8a" stroke-width="1"/>
<path d="M709.0,371.4v-2" stroke="#8a8a8a" stroke-width="1"/>
<path d="M722.2,371.4v-2" stroke="#8a8a8a" stroke-width="1"/>
<path d="M735.5,371.4v-2" stroke="#8a8a8a" stroke-width="1"/>
<path d="M748.8,371.4v-2" stroke="#8a8a8a" stroke-width="1"/>
<path d="M616.0,343.9 L629.3,334.8 L642.6,292 L655.8,278.8 L669.1,279.8 L682.4,300.3 L695.7,310.6 L709.0,302.7 L722.2,306.2 L735.5,316.8 L748.8,338.9" fill="none" stroke="#ff0000" stroke-width="1.9" stroke-linejoin="round"/>
<path d="M616.0,339.6V354.8M629.3,325V343.5M642.6,282.3V300.8M655.8,271.7V286.2M669.1,272V289.1M682.4,288.2V309.6M695.7,297.9V323.9M709.0,290.8V315.6M722.2,293V319.1M735.5,305V330M748.8,328.6V350.9" stroke="#ff0000" stroke-width="1.8"/>
<path d="M613.4,340.2h5.2M613.4,354.2h5.2M626.7,325.6h5.2M626.7,342.9h5.2M640.0,282.9h5.2M640.0,300.2h5.2M653.2,272.3h5.2M653.2,285.6h5.2M666.5,272.6h5.2M666.5,288.5h5.2M679.8,288.8h5.2M679.8,309.0h5.2M693.1,298.5h5.2M693.1,323.3h5.2M706.4,291.4h5.2M706.4,315.0h5.2M719.6,293.6h5.2M719.6,318.5h5.2M732.9,305.6h5.2M732.9,329.4h5.2M746.2,329.2h5.2M746.2,350.3h5.2" stroke="#ff0000" stroke-width="2.2"/>
<path d="M616.0,343.9 L629.3,348.3 L642.6,343.5 L655.8,311.5 L669.1,292 L682.4,305 L695.7,326.2 L709.0,342.4 L722.2,341.5 L735.5,355.7 L748.8,345.9" fill="none" stroke="#000000" stroke-width="1.9" stroke-linejoin="round"/>
<path d="M616.0,331.5V355.1M629.3,330.9V366.4M642.6,326V360.6M655.8,296.5V326M669.1,280.4V302.7M682.4,289.7V321.6M695.7,312.4V342.4M709.0,332.2V353.9M722.2,330.9V352.1M735.5,347.7V363.6M748.8,331.8V359.7" stroke="#000000" stroke-width="1.8"/>
<path d="M613.4,332.1h5.2M613.4,354.5h5.2M626.7,331.5h5.2M626.7,365.8h5.2M640.0,326.6h5.2M640.0,360.0h5.2M653.2,297.1h5.2M653.2,325.4h5.2M666.5,281.0h5.2M666.5,302.1h5.2M679.8,290.3h5.2M679.8,321.0h5.2M693.1,313.0h5.2M693.1,341.8h5.2M706.4,332.8h5.2M706.4,353.3h5.2M719.6,331.5h5.2M719.6,351.5h5.2M732.9,348.3h5.2M732.9,363.0h5.2M746.2,332.4h5.2M746.2,359.1h5.2" stroke="#000000" stroke-width="2.2"/>
<path d="M602.6,398.8V525.4H760.4" fill="none" stroke="#8a8a8a" stroke-width="1.2"/>
<path d="M602.6,399.3h2" stroke="#8a8a8a" stroke-width="1"/>
<text x="599.1" y="403.2" text-anchor="end" class="tk">0.2</text>
<path d="M602.6,420.3h2" stroke="#8a8a8a" stroke-width="1"/>
<text x="599.1" y="424.2" text-anchor="end" class="tk">0.15</text>
<path d="M602.6,441.3h2" stroke="#8a8a8a" stroke-width="1"/>
<text x="599.1" y="445.2" text-anchor="end" class="tk">0.1</text>
<path d="M602.6,462.4h2" stroke="#8a8a8a" stroke-width="1"/>
<text x="599.1" y="466.2" text-anchor="end" class="tk">0.05</text>
<path d="M602.6,483.4h2" stroke="#8a8a8a" stroke-width="1"/>
<text x="599.1" y="487.3" text-anchor="end" class="tk">0</text>
<path d="M602.6,504.4h2" stroke="#8a8a8a" stroke-width="1"/>
<text x="599.1" y="508.3" text-anchor="end" class="tk">-0.05</text>
<path d="M602.6,525.4h2" stroke="#8a8a8a" stroke-width="1"/>
<text x="599.1" y="529.3" text-anchor="end" class="tk">-0.1</text>
<path d="M615.6,525.4v-2" stroke="#8a8a8a" stroke-width="1"/>
<text x="615.6" y="537.6" text-anchor="middle" class="tk">0</text>
<path d="M628.8,525.4v-2" stroke="#8a8a8a" stroke-width="1"/>
<text x="628.8" y="537.6" text-anchor="middle" class="tk">2</text>
<path d="M642.0,525.4v-2" stroke="#8a8a8a" stroke-width="1"/>
<text x="642.0" y="537.6" text-anchor="middle" class="tk">4</text>
<path d="M655.2,525.4v-2" stroke="#8a8a8a" stroke-width="1"/>
<text x="655.2" y="537.6" text-anchor="middle" class="tk">6</text>
<path d="M668.4,525.4v-2" stroke="#8a8a8a" stroke-width="1"/>
<text x="668.4" y="537.6" text-anchor="middle" class="tk">8</text>
<path d="M681.6,525.4v-2" stroke="#8a8a8a" stroke-width="1"/>
<text x="681.6" y="537.6" text-anchor="middle" class="tk">10</text>
<path d="M694.8,525.4v-2" stroke="#8a8a8a" stroke-width="1"/>
<text x="694.8" y="537.6" text-anchor="middle" class="tk">12</text>
<path d="M708.0,525.4v-2" stroke="#8a8a8a" stroke-width="1"/>
<text x="708.0" y="537.6" text-anchor="middle" class="tk">14</text>
<path d="M721.2,525.4v-2" stroke="#8a8a8a" stroke-width="1"/>
<text x="721.2" y="537.6" text-anchor="middle" class="tk">16</text>
<path d="M734.4,525.4v-2" stroke="#8a8a8a" stroke-width="1"/>
<text x="734.4" y="537.6" text-anchor="middle" class="tk">18</text>
<path d="M747.6,525.4v-2" stroke="#8a8a8a" stroke-width="1"/>
<text x="747.6" y="537.6" text-anchor="middle" class="tk">20</text>
<text x="680.3" y="560.4" text-anchor="middle" class="tm">Time</text>
<path d="M615.6,491.2 L628.8,480.2 L642.0,432.9 L655.2,427.6 L668.4,421.2 L681.6,435.6 L694.8,444 L708.0,429.4 L721.2,441.1 L734.4,452.7 L747.6,484.8" fill="none" stroke="#0000ff" stroke-width="1.9" stroke-linejoin="round"/>
<path d="M615.6,483.2V499.3M628.8,467.5V491.7M642.0,421.2V443.5M655.2,416.6V437.8M668.4,410.2V429.3M681.6,423.6V449M694.8,429V459.5M708.0,414.3V445M721.2,425.9V459.5M734.4,438.2V468.3M747.6,470.2V498.9" stroke="#0000ff" stroke-width="1.8"/>
<path d="M613.0,483.8h5.2M613.0,498.7h5.2M626.2,468.1h5.2M626.2,491.1h5.2M639.4,421.8h5.2M639.4,442.9h5.2M652.6,417.2h5.2M652.6,437.2h5.2M665.8,410.8h5.2M665.8,428.7h5.2M679.0,424.2h5.2M679.0,448.4h5.2M692.2,429.6h5.2M692.2,458.9h5.2M705.4,414.9h5.2M705.4,444.4h5.2M718.6,426.5h5.2M718.6,458.9h5.2M731.8,438.8h5.2M731.8,467.7h5.2M745.0,470.8h5.2M745.0,498.3h5.2" stroke="#0000ff" stroke-width="2.2"/>
<path d="M615.6,490.2 L628.8,497.2 L642.0,475.3 L655.2,438.2 L668.4,418.7 L681.6,428.5 L694.8,464.4 L708.0,479.5 L721.2,484.8 L734.4,493.9 L747.6,486.7" fill="none" stroke="#000000" stroke-width="1.9" stroke-linejoin="round"/>
<path d="M615.6,478.9V503.6M628.8,478.5V516.3M642.0,456.2V492.3M655.2,423.3V454.1M668.4,403.2V432.3M681.6,416.7V442M694.8,451.2V476M708.0,467.9V491.9M721.2,477V491.9M734.4,485.7V502.8M747.6,473.7V498.3" stroke="#000000" stroke-width="1.8"/>
<path d="M613.0,479.5h5.2M613.0,503.0h5.2M626.2,479.1h5.2M626.2,515.7h5.2M639.4,456.8h5.2M639.4,491.7h5.2M652.6,423.9h5.2M652.6,453.5h5.2M665.8,403.8h5.2M665.8,431.7h5.2M679.0,417.3h5.2M679.0,441.4h5.2M692.2,451.8h5.2M692.2,475.4h5.2M705.4,468.5h5.2M705.4,491.3h5.2M718.6,477.6h5.2M718.6,491.3h5.2M731.8,486.3h5.2M731.8,502.2h5.2M745.0,474.3h5.2M745.0,497.7h5.2" stroke="#000000" stroke-width="2.2"/>
<path d="M837.5,244.4V370.6H996.2" fill="none" stroke="#8a8a8a" stroke-width="1.2"/>
<path d="M837.5,244.9h2" stroke="#8a8a8a" stroke-width="1"/>
<text x="834.0" y="248.8" text-anchor="end" class="tk">0.3</text>
<path d="M837.5,270.0h2" stroke="#8a8a8a" stroke-width="1"/>
<text x="834.0" y="273.9" text-anchor="end" class="tk">0.2</text>
<path d="M837.5,295.2h2" stroke="#8a8a8a" stroke-width="1"/>
<text x="834.0" y="299.1" text-anchor="end" class="tk">0.1</text>
<path d="M837.5,320.3h2" stroke="#8a8a8a" stroke-width="1"/>
<text x="834.0" y="324.2" text-anchor="end" class="tk">0</text>
<path d="M837.5,345.5h2" stroke="#8a8a8a" stroke-width="1"/>
<text x="834.0" y="349.4" text-anchor="end" class="tk">-0.1</text>
<path d="M837.5,370.6h2" stroke="#8a8a8a" stroke-width="1"/>
<text x="834.0" y="374.5" text-anchor="end" class="tk">-0.2</text>
<path d="M850.6,370.6v-2" stroke="#8a8a8a" stroke-width="1"/>
<text x="850.6" y="382.3" text-anchor="middle" class="tk">0</text>
<path d="M863.9,370.6v-2" stroke="#8a8a8a" stroke-width="1"/>
<text x="863.9" y="382.3" text-anchor="middle" class="tk">2</text>
<path d="M877.1,370.6v-2" stroke="#8a8a8a" stroke-width="1"/>
<text x="877.1" y="382.3" text-anchor="middle" class="tk">4</text>
<path d="M890.4,370.6v-2" stroke="#8a8a8a" stroke-width="1"/>
<text x="890.4" y="382.3" text-anchor="middle" class="tk">6</text>
<path d="M903.6,370.6v-2" stroke="#8a8a8a" stroke-width="1"/>
<text x="903.6" y="382.3" text-anchor="middle" class="tk">8</text>
<path d="M916.9,370.6v-2" stroke="#8a8a8a" stroke-width="1"/>
<text x="916.9" y="382.3" text-anchor="middle" class="tk">10</text>
<path d="M930.1,370.6v-2" stroke="#8a8a8a" stroke-width="1"/>
<text x="930.1" y="382.3" text-anchor="middle" class="tk">12</text>
<path d="M943.4,370.6v-2" stroke="#8a8a8a" stroke-width="1"/>
<text x="943.4" y="382.3" text-anchor="middle" class="tk">14</text>
<path d="M956.6,370.6v-2" stroke="#8a8a8a" stroke-width="1"/>
<text x="956.6" y="382.3" text-anchor="middle" class="tk">16</text>
<path d="M969.9,370.6v-2" stroke="#8a8a8a" stroke-width="1"/>
<text x="969.9" y="382.3" text-anchor="middle" class="tk">18</text>
<path d="M983.1,370.6v-2" stroke="#8a8a8a" stroke-width="1"/>
<text x="983.1" y="382.3" text-anchor="middle" class="tk">20</text>
<text x="910.0" y="400.3" text-anchor="middle" class="tm">Time</text>
<path d="M850.6,320 L863.9,318.6 L877.1,275.9 L890.4,254.6 L903.6,259.1 L916.9,288 L930.1,324.9 L943.4,337.6 L956.6,338.1 L969.9,341.9 L983.1,332" fill="none" stroke="#ff0000" stroke-width="1.9" stroke-linejoin="round"/>
<path d="M850.6,317.3V326.4M863.9,310.9V321.6M877.1,270.1V281.7M890.4,247.8V259M903.6,253V265.7M916.9,283.1V293M930.1,318.5V334.4M943.4,331.2V343.9M956.6,331.2V345M969.9,333.6V351.1M983.1,323.3V338.4" stroke="#ff0000" stroke-width="1.8"/>
<path d="M848.0,317.9h5.2M848.0,325.8h5.2M861.2,311.5h5.2M861.2,321.0h5.2M874.5,270.7h5.2M874.5,281.1h5.2M887.8,248.4h5.2M887.8,258.4h5.2M901.0,253.6h5.2M901.0,265.1h5.2M914.2,283.7h5.2M914.2,292.4h5.2M927.5,319.1h5.2M927.5,333.8h5.2M940.8,331.8h5.2M940.8,343.3h5.2M954.0,331.8h5.2M954.0,344.4h5.2M967.2,334.2h5.2M967.2,350.5h5.2M980.5,323.9h5.2M980.5,337.8h5.2" stroke="#ff0000" stroke-width="2.2"/>
<path d="M850.6,317.7 L863.9,320.6 L877.1,312.8 L890.4,287.6 L903.6,288.8 L916.9,299.4 L930.1,306.9 L943.4,316.1 L956.6,324.1 L969.9,338.1 L983.1,330.7" fill="none" stroke="#000000" stroke-width="1.9" stroke-linejoin="round"/>
<path d="M850.6,311.8V323.5M863.9,314.8V327M877.1,306V319.2M890.4,278.8V295.9M903.6,282.3V295.2M916.9,290.8V308.7M930.1,297.2V316.9M943.4,307.8V324.4M956.6,319.3V329.2M969.9,331.2V344.7M983.1,322.2V339.6" stroke="#000000" stroke-width="1.8"/>
<path d="M848.0,312.4h5.2M848.0,322.9h5.2M861.2,315.4h5.2M861.2,326.4h5.2M874.5,306.6h5.2M874.5,318.6h5.2M887.8,279.4h5.2M887.8,295.3h5.2M901.0,282.9h5.2M901.0,294.6h5.2M914.2,291.4h5.2M914.2,308.1h5.2M927.5,297.8h5.2M927.5,316.3h5.2M940.8,308.4h5.2M940.8,323.8h5.2M954.0,319.9h5.2M954.0,328.6h5.2M967.2,331.8h5.2M967.2,344.1h5.2M980.5,322.8h5.2M980.5,339.0h5.2" stroke="#000000" stroke-width="2.2"/>
</svg>
</body></html>
